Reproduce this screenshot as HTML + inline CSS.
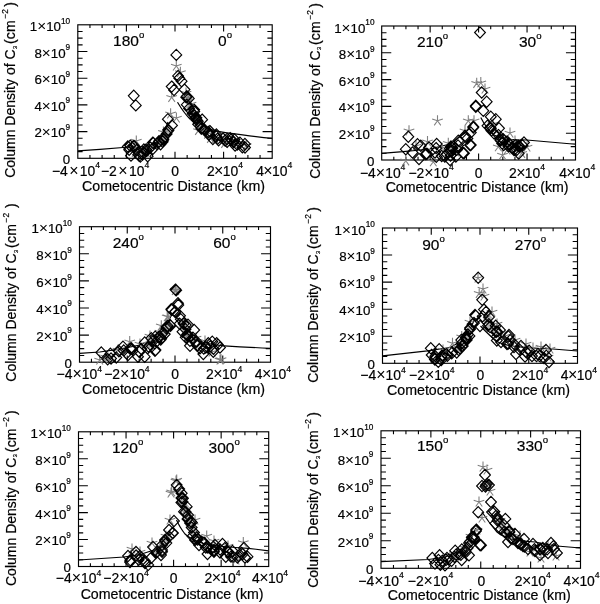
<!DOCTYPE html>
<html><head><meta charset="utf-8"><title>C3 column density profiles</title>
<style>
html,body{margin:0;padding:0;background:#fff;}
svg{display:block;font-family:"Liberation Sans",sans-serif;fill:#000;filter:grayscale(1);}
text{stroke:#000;stroke-width:0.2px;}
</style></head><body>
<svg width="600" height="604" viewBox="0 0 600 604">
<rect width="600" height="604" fill="#fff"/>
<rect x="77.8" y="24.8" width="194.4" height="133.5" fill="none" stroke="#000" stroke-width="1.15"/>
<path d="M89.95 158.3v-3.3M89.95 24.8v3.3M102.1 158.3v-3.3M102.1 24.8v3.3M114.25 158.3v-3.3M114.25 24.8v3.3M126.4 158.3v-6.6M126.4 24.8v6.6M138.55 158.3v-3.3M138.55 24.8v3.3M150.7 158.3v-3.3M150.7 24.8v3.3M162.85 158.3v-3.3M162.85 24.8v3.3M175 158.3v-6.6M175 24.8v6.6M187.15 158.3v-3.3M187.15 24.8v3.3M199.3 158.3v-3.3M199.3 24.8v3.3M211.45 158.3v-3.3M211.45 24.8v3.3M223.6 158.3v-6.6M223.6 24.8v6.6M235.75 158.3v-3.3M235.75 24.8v3.3M247.9 158.3v-3.3M247.9 24.8v3.3M260.05 158.3v-3.3M260.05 24.8v3.3M77.8 151.62h4.8M272.2 151.62h-4.8M77.8 144.95h4.8M272.2 144.95h-4.8M77.8 138.28h4.8M272.2 138.28h-4.8M77.8 131.6h9.6M272.2 131.6h-9.6M77.8 124.93h4.8M272.2 124.93h-4.8M77.8 118.25h4.8M272.2 118.25h-4.8M77.8 111.58h4.8M272.2 111.58h-4.8M77.8 104.9h9.6M272.2 104.9h-9.6M77.8 98.23h4.8M272.2 98.23h-4.8M77.8 91.55h4.8M272.2 91.55h-4.8M77.8 84.88h4.8M272.2 84.88h-4.8M77.8 78.2h9.6M272.2 78.2h-9.6M77.8 71.53h4.8M272.2 71.53h-4.8M77.8 64.85h4.8M272.2 64.85h-4.8M77.8 58.18h4.8M272.2 58.18h-4.8M77.8 51.5h9.6M272.2 51.5h-9.6M77.8 44.83h4.8M272.2 44.83h-4.8M77.8 38.15h4.8M272.2 38.15h-4.8M77.8 31.48h4.8M272.2 31.48h-4.8" stroke="#000" stroke-width="1.1" fill="none"/>
<text x="70.2" y="163.8" font-size="13.3" text-anchor="end">0</text>
<text x="70.2" y="137.32" font-size="13.3" text-anchor="end">2<tspan stroke="none" font-size="15.29">×</tspan>10<tspan dy="-7.45" font-size="8.25">9</tspan></text>
<text x="70.2" y="110.84" font-size="13.3" text-anchor="end">4<tspan stroke="none" font-size="15.29">×</tspan>10<tspan dy="-7.45" font-size="8.25">9</tspan></text>
<text x="70.2" y="84.36" font-size="13.3" text-anchor="end">6<tspan stroke="none" font-size="15.29">×</tspan>10<tspan dy="-7.45" font-size="8.25">9</tspan></text>
<text x="70.2" y="57.88" font-size="13.3" text-anchor="end">8<tspan stroke="none" font-size="15.29">×</tspan>10<tspan dy="-7.45" font-size="8.25">9</tspan></text>
<text x="70.2" y="31.4" font-size="13.3" text-anchor="end">1<tspan stroke="none" font-size="15.29">×</tspan>10<tspan dy="-7.45" font-size="8.25">10</tspan></text>
<text x="76" y="176" font-size="13.9" text-anchor="middle">−4<tspan stroke="none" dx="1.4" font-size="15.98">×</tspan><tspan dx="1.4">10</tspan><tspan dy="-7.78" font-size="8.62">4</tspan></text>
<text x="125.1" y="176" font-size="13.9" text-anchor="middle">−2<tspan stroke="none" dx="1.4" font-size="15.98">×</tspan><tspan dx="1.4">10</tspan><tspan dy="-7.78" font-size="8.62">4</tspan></text>
<text x="175" y="176" font-size="13.9" text-anchor="middle">0</text>
<text x="225" y="176" font-size="13.9" text-anchor="middle">2<tspan stroke="none" dx="-0.6" font-size="15.98">×</tspan><tspan dx="-0.6">10</tspan><tspan dy="-7.78" font-size="8.62">4</tspan></text>
<text x="274.2" y="176" font-size="13.9" text-anchor="middle">4<tspan stroke="none" dx="-0.6" font-size="15.98">×</tspan><tspan dx="-0.6">10</tspan><tspan dy="-7.78" font-size="8.62">4</tspan></text>
<text x="173.5" y="190.8" font-size="14.2" text-anchor="middle">Cometocentric Distance (km)</text>
<text transform="translate(15 177.8) rotate(-90)" font-size="14">Column Density of C<tspan font-size="5.6" dy="1.68" dx="0.3">3</tspan><tspan dy="-1.68" dx="2" letter-spacing="0.2">(cm</tspan><tspan font-size="8.4" dy="-7" dx="1.5">−2</tspan><tspan dy="7" dx="2.3">)</tspan></text>
<text x="113.1" y="45.9" font-size="15.5">180<tspan dy="-7.75" font-size="9.61">o</tspan></text>
<text x="218.1" y="45.9" font-size="15.5">0<tspan dy="-7.75" font-size="9.61">o</tspan></text>
<clipPath id="c0"><rect x="77.8" y="24.8" width="194.4" height="133.5"/></clipPath>
<g clip-path="url(#c0)" fill="none">
<path d="M77.8 150.8 L100 149.3 L123 147.5 L140 147 L150 145.5 L158 141 L165 130 L168 122" stroke="#000" stroke-width="1.2"/>
<path d="M177.5 102.2 C181 108 185 114 190 119 C198 126 210 130.5 227 132.8 C243 135 258 137 272.2 138.4" stroke="#000" stroke-width="1.2"/>
</g>
<g fill="none">
<path d="M188 93.5l5 5.2l-5 5.2l-5 -5.2zM190.74 102.08l5 5.2l-5 5.2l-5 -5.2zM190.82 104.61l5 5.2l-5 5.2l-5 -5.2zM192.2 107.56l5 5.2l-5 5.2l-5 -5.2zM194.58 109.23l5 5.2l-5 5.2l-5 -5.2zM196.2 112.6l5 5.2l-5 5.2l-5 -5.2zM197.87 114.23l5 5.2l-5 5.2l-5 -5.2zM198.38 116.55l5 5.2l-5 5.2l-5 -5.2zM199.52 118.63l5 5.2l-5 5.2l-5 -5.2zM202.39 120.71l5 5.2l-5 5.2l-5 -5.2zM160.05 134.3l5 5.2l-5 5.2l-5 -5.2zM162.81 131.9l5 5.2l-5 5.2l-5 -5.2zM164.07 130.22l5 5.2l-5 5.2l-5 -5.2zM166.44 127.49l5 5.2l-5 5.2l-5 -5.2zM166.1 126.08l5 5.2l-5 5.2l-5 -5.2zM140.78 147.37l5 5.2l-5 5.2l-5 -5.2zM144.16 146.4l5 5.2l-5 5.2l-5 -5.2zM145.42 146.1l5 5.2l-5 5.2l-5 -5.2z" fill="#b4b4b4" stroke="none"/>
<path d="M136.3 141l0 -5.6M136.3 141l-5.33 -1.73M136.3 141l-3.29 4.53M136.3 141l3.29 4.53M136.3 141l5.33 -1.73M170.6 113.8l0 -5.6M170.6 113.8l-5.33 -1.73M170.6 113.8l-3.29 4.53M170.6 113.8l3.29 4.53M170.6 113.8l5.33 -1.73M176.4 118l0 -5.6M176.4 118l-5.33 -1.73M176.4 118l-3.29 4.53M176.4 118l3.29 4.53M176.4 118l5.33 -1.73M171.7 97.3l0 -5.6M171.7 97.3l-5.33 -1.73M171.7 97.3l-3.29 4.53M171.7 97.3l3.29 4.53M171.7 97.3l5.33 -1.73M176.3 66l0 -5.6M176.3 66l-5.33 -1.73M176.3 66l-3.29 4.53M176.3 66l3.29 4.53M176.3 66l5.33 -1.73M180.4 72.4l0 -5.6M180.4 72.4l-5.33 -1.73M180.4 72.4l-3.29 4.53M180.4 72.4l3.29 4.53M180.4 72.4l5.33 -1.73M188 98l0 -5.6M188 98l-5.33 -1.73M188 98l-3.29 4.53M188 98l3.29 4.53M188 98l5.33 -1.73M186 93l0 -5.6M186 93l-5.33 -1.73M186 93l-3.29 4.53M186 93l3.29 4.53M186 93l5.33 -1.73M191 104l0 -5.6M191 104l-5.33 -1.73M191 104l-3.29 4.53M191 104l3.29 4.53M191 104l5.33 -1.73M193.79 114.98l0 -5.6M193.79 114.98l-5.33 -1.73M193.79 114.98l-3.29 4.53M193.79 114.98l3.29 4.53M193.79 114.98l5.33 -1.73M196.89 119.59l0 -5.6M196.89 119.59l-5.33 -1.73M196.89 119.59l-3.29 4.53M196.89 119.59l3.29 4.53M196.89 119.59l5.33 -1.73M198.5 130.4l0 -5.6M198.5 130.4l-5.33 -1.73M198.5 130.4l-3.29 4.53M198.5 130.4l3.29 4.53M198.5 130.4l5.33 -1.73M207.55 134.07l0 -5.6M207.55 134.07l-5.33 -1.73M207.55 134.07l-3.29 4.53M207.55 134.07l3.29 4.53M207.55 134.07l5.33 -1.73M210.46 138.29l0 -5.6M210.46 138.29l-5.33 -1.73M210.46 138.29l-3.29 4.53M210.46 138.29l3.29 4.53M210.46 138.29l5.33 -1.73M214.82 138.96l0 -5.6M214.82 138.96l-5.33 -1.73M214.82 138.96l-3.29 4.53M214.82 138.96l3.29 4.53M214.82 138.96l5.33 -1.73M224.62 143.38l0 -5.6M224.62 143.38l-5.33 -1.73M224.62 143.38l-3.29 4.53M224.62 143.38l3.29 4.53M224.62 143.38l5.33 -1.73M232.65 140.21l0 -5.6M232.65 140.21l-5.33 -1.73M232.65 140.21l-3.29 4.53M232.65 140.21l3.29 4.53M232.65 140.21l5.33 -1.73M236.99 143.99l0 -5.6M236.99 143.99l-5.33 -1.73M236.99 143.99l-3.29 4.53M236.99 143.99l3.29 4.53M236.99 143.99l5.33 -1.73M246.22 145.47l0 -5.6M246.22 145.47l-5.33 -1.73M246.22 145.47l-3.29 4.53M246.22 145.47l3.29 4.53M246.22 145.47l5.33 -1.73M134.67 148.58l0 -5.6M134.67 148.58l-5.33 -1.73M134.67 148.58l-3.29 4.53M134.67 148.58l3.29 4.53M134.67 148.58l5.33 -1.73M135.25 152.31l0 -5.6M135.25 152.31l-5.33 -1.73M135.25 152.31l-3.29 4.53M135.25 152.31l3.29 4.53M135.25 152.31l5.33 -1.73M146.44 152.65l0 -5.6M146.44 152.65l-5.33 -1.73M146.44 152.65l-3.29 4.53M146.44 152.65l3.29 4.53M146.44 152.65l5.33 -1.73M154.49 143.72l0 -5.6M154.49 143.72l-5.33 -1.73M154.49 143.72l-3.29 4.53M154.49 143.72l3.29 4.53M154.49 143.72l5.33 -1.73M159.92 141.86l0 -5.6M159.92 141.86l-5.33 -1.73M159.92 141.86l-3.29 4.53M159.92 141.86l3.29 4.53M159.92 141.86l5.33 -1.73M163.44 132.14l0 -5.6M163.44 132.14l-5.33 -1.73M163.44 132.14l-3.29 4.53M163.44 132.14l3.29 4.53M163.44 132.14l5.33 -1.73" stroke="#808080" stroke-width="1.1"/>
<path d="M133.75 90.18l5.4 5.62l-5.4 5.62l-5.4 -5.62zM135.8 99.78l5.4 5.62l-5.4 5.62l-5.4 -5.62zM176.3 49.28l5.4 5.62l-5.4 5.62l-5.4 -5.62zM178.1 70.28l5.4 5.62l-5.4 5.62l-5.4 -5.62zM179.3 72.68l5.4 5.62l-5.4 5.62l-5.4 -5.62zM181.6 75.58l5.4 5.62l-5.4 5.62l-5.4 -5.62zM171.7 80.98l5.4 5.62l-5.4 5.62l-5.4 -5.62zM174 84.38l5.4 5.62l-5.4 5.62l-5.4 -5.62zM184.5 83.98l5.4 5.62l-5.4 5.62l-5.4 -5.62zM167.9 113.58l5.4 5.62l-5.4 5.62l-5.4 -5.62zM129.19 144.23l5.4 5.62l-5.4 5.62l-5.4 -5.62zM127.8 140.87l5.4 5.62l-5.4 5.62l-5.4 -5.62zM130.37 140.17l5.4 5.62l-5.4 5.62l-5.4 -5.62zM133.34 140.46l5.4 5.62l-5.4 5.62l-5.4 -5.62zM134.46 140.66l5.4 5.62l-5.4 5.62l-5.4 -5.62zM130.19 140.01l5.4 5.62l-5.4 5.62l-5.4 -5.62zM131 150.03l5.4 5.62l-5.4 5.62l-5.4 -5.62zM136.62 144.59l5.4 5.62l-5.4 5.62l-5.4 -5.62zM138.25 148.76l5.4 5.62l-5.4 5.62l-5.4 -5.62zM140.39 151l5.4 5.62l-5.4 5.62l-5.4 -5.62zM139.19 150.24l5.4 5.62l-5.4 5.62l-5.4 -5.62zM142.77 148.53l5.4 5.62l-5.4 5.62l-5.4 -5.62zM142.62 148.85l5.4 5.62l-5.4 5.62l-5.4 -5.62zM143.68 147.5l5.4 5.62l-5.4 5.62l-5.4 -5.62zM146.1 143.76l5.4 5.62l-5.4 5.62l-5.4 -5.62zM143.89 143.89l5.4 5.62l-5.4 5.62l-5.4 -5.62zM147.67 150.59l5.4 5.62l-5.4 5.62l-5.4 -5.62zM146.86 145.14l5.4 5.62l-5.4 5.62l-5.4 -5.62zM150.27 142.01l5.4 5.62l-5.4 5.62l-5.4 -5.62zM152.77 137.16l5.4 5.62l-5.4 5.62l-5.4 -5.62zM152.94 143.06l5.4 5.62l-5.4 5.62l-5.4 -5.62zM153.36 137.36l5.4 5.62l-5.4 5.62l-5.4 -5.62zM158.68 136.77l5.4 5.62l-5.4 5.62l-5.4 -5.62zM160.56 138.58l5.4 5.62l-5.4 5.62l-5.4 -5.62zM162.67 136.07l5.4 5.62l-5.4 5.62l-5.4 -5.62zM157.04 138.39l5.4 5.62l-5.4 5.62l-5.4 -5.62zM159.01 135.54l5.4 5.62l-5.4 5.62l-5.4 -5.62zM163.44 134.08l5.4 5.62l-5.4 5.62l-5.4 -5.62zM163.21 132.58l5.4 5.62l-5.4 5.62l-5.4 -5.62zM166.67 128.4l5.4 5.62l-5.4 5.62l-5.4 -5.62zM168.25 124.12l5.4 5.62l-5.4 5.62l-5.4 -5.62zM168.49 124.99l5.4 5.62l-5.4 5.62l-5.4 -5.62zM172.01 119.78l5.4 5.62l-5.4 5.62l-5.4 -5.62zM186.84 90.56l5.4 5.62l-5.4 5.62l-5.4 -5.62zM186.23 91.57l5.4 5.62l-5.4 5.62l-5.4 -5.62zM188.81 92.85l5.4 5.62l-5.4 5.62l-5.4 -5.62zM186.81 99.08l5.4 5.62l-5.4 5.62l-5.4 -5.62zM189.02 102.76l5.4 5.62l-5.4 5.62l-5.4 -5.62zM194.27 105.96l5.4 5.62l-5.4 5.62l-5.4 -5.62zM194.2 104.22l5.4 5.62l-5.4 5.62l-5.4 -5.62zM192.65 108.17l5.4 5.62l-5.4 5.62l-5.4 -5.62zM194.6 109.94l5.4 5.62l-5.4 5.62l-5.4 -5.62zM195.37 112.18l5.4 5.62l-5.4 5.62l-5.4 -5.62zM196.38 112.17l5.4 5.62l-5.4 5.62l-5.4 -5.62zM196.5 114.14l5.4 5.62l-5.4 5.62l-5.4 -5.62zM197.78 115.74l5.4 5.62l-5.4 5.62l-5.4 -5.62zM198.13 118.61l5.4 5.62l-5.4 5.62l-5.4 -5.62zM202.14 114.02l5.4 5.62l-5.4 5.62l-5.4 -5.62zM200.5 120.75l5.4 5.62l-5.4 5.62l-5.4 -5.62zM201.31 122.89l5.4 5.62l-5.4 5.62l-5.4 -5.62zM204.26 124.01l5.4 5.62l-5.4 5.62l-5.4 -5.62zM204.94 124.88l5.4 5.62l-5.4 5.62l-5.4 -5.62zM208.19 126.27l5.4 5.62l-5.4 5.62l-5.4 -5.62zM209.84 125.48l5.4 5.62l-5.4 5.62l-5.4 -5.62zM208.6 128.92l5.4 5.62l-5.4 5.62l-5.4 -5.62zM209.13 128.92l5.4 5.62l-5.4 5.62l-5.4 -5.62zM212.83 133.34l5.4 5.62l-5.4 5.62l-5.4 -5.62zM216.42 128.78l5.4 5.62l-5.4 5.62l-5.4 -5.62zM216.41 130.83l5.4 5.62l-5.4 5.62l-5.4 -5.62zM217.56 133.11l5.4 5.62l-5.4 5.62l-5.4 -5.62zM218.6 134.65l5.4 5.62l-5.4 5.62l-5.4 -5.62zM223.01 132.99l5.4 5.62l-5.4 5.62l-5.4 -5.62zM227.13 133.31l5.4 5.62l-5.4 5.62l-5.4 -5.62zM225.1 134.96l5.4 5.62l-5.4 5.62l-5.4 -5.62zM227.07 136.2l5.4 5.62l-5.4 5.62l-5.4 -5.62zM230.23 132.53l5.4 5.62l-5.4 5.62l-5.4 -5.62zM231 134.12l5.4 5.62l-5.4 5.62l-5.4 -5.62zM234.5 133.88l5.4 5.62l-5.4 5.62l-5.4 -5.62zM233.65 136.49l5.4 5.62l-5.4 5.62l-5.4 -5.62zM235.1 139.89l5.4 5.62l-5.4 5.62l-5.4 -5.62zM237.27 138.86l5.4 5.62l-5.4 5.62l-5.4 -5.62zM239.97 137.16l5.4 5.62l-5.4 5.62l-5.4 -5.62zM242.37 141.59l5.4 5.62l-5.4 5.62l-5.4 -5.62zM245.01 141.88l5.4 5.62l-5.4 5.62l-5.4 -5.62zM244.94 138.38l5.4 5.62l-5.4 5.62l-5.4 -5.62z" stroke="#000" stroke-width="1.15"/>
</g>
<rect x="381.7" y="26" width="193.8" height="134" fill="none" stroke="#000" stroke-width="1.15"/>
<path d="M393.81 160v-3.31M393.81 26v3.31M405.93 160v-3.31M405.93 26v3.31M418.04 160v-3.31M418.04 26v3.31M430.15 160v-6.62M430.15 26v6.62M442.26 160v-3.31M442.26 26v3.31M454.38 160v-3.31M454.38 26v3.31M466.49 160v-3.31M466.49 26v3.31M478.6 160v-6.62M478.6 26v6.62M490.71 160v-3.31M490.71 26v3.31M502.82 160v-3.31M502.82 26v3.31M514.94 160v-3.31M514.94 26v3.31M527.05 160v-6.62M527.05 26v6.62M539.16 160v-3.31M539.16 26v3.31M551.27 160v-3.31M551.27 26v3.31M563.39 160v-3.31M563.39 26v3.31M381.7 153.3h4.79M575.5 153.3h-4.79M381.7 146.6h4.79M575.5 146.6h-4.79M381.7 139.9h4.79M575.5 139.9h-4.79M381.7 133.2h9.57M575.5 133.2h-9.57M381.7 126.5h4.79M575.5 126.5h-4.79M381.7 119.8h4.79M575.5 119.8h-4.79M381.7 113.1h4.79M575.5 113.1h-4.79M381.7 106.4h9.57M575.5 106.4h-9.57M381.7 99.7h4.79M575.5 99.7h-4.79M381.7 93h4.79M575.5 93h-4.79M381.7 86.3h4.79M575.5 86.3h-4.79M381.7 79.6h9.57M575.5 79.6h-9.57M381.7 72.9h4.79M575.5 72.9h-4.79M381.7 66.2h4.79M575.5 66.2h-4.79M381.7 59.5h4.79M575.5 59.5h-4.79M381.7 52.8h9.57M575.5 52.8h-9.57M381.7 46.1h4.79M575.5 46.1h-4.79M381.7 39.4h4.79M575.5 39.4h-4.79M381.7 32.7h4.79M575.5 32.7h-4.79" stroke="#000" stroke-width="1.1" fill="none"/>
<text x="374.5" y="165.5" font-size="13.3" text-anchor="end">0</text>
<text x="374.5" y="138.92" font-size="13.3" text-anchor="end">2<tspan stroke="none" font-size="15.29">×</tspan>10<tspan dy="-7.45" font-size="8.25">9</tspan></text>
<text x="374.5" y="112.34" font-size="13.3" text-anchor="end">4<tspan stroke="none" font-size="15.29">×</tspan>10<tspan dy="-7.45" font-size="8.25">9</tspan></text>
<text x="374.5" y="85.76" font-size="13.3" text-anchor="end">6<tspan stroke="none" font-size="15.29">×</tspan>10<tspan dy="-7.45" font-size="8.25">9</tspan></text>
<text x="374.5" y="59.18" font-size="13.3" text-anchor="end">8<tspan stroke="none" font-size="15.29">×</tspan>10<tspan dy="-7.45" font-size="8.25">9</tspan></text>
<text x="374.5" y="32.6" font-size="13.3" text-anchor="end">1<tspan stroke="none" font-size="15.29">×</tspan>10<tspan dy="-7.45" font-size="8.25">10</tspan></text>
<text x="382.7" y="177.5" font-size="13.9" text-anchor="middle">−4<tspan stroke="none" dx="0" font-size="15.98">×</tspan><tspan dx="0">10</tspan><tspan dy="-7.78" font-size="8.62">4</tspan></text>
<text x="431.15" y="177.5" font-size="13.9" text-anchor="middle">−2<tspan stroke="none" dx="0" font-size="15.98">×</tspan><tspan dx="0">10</tspan><tspan dy="-7.78" font-size="8.62">4</tspan></text>
<text x="478.6" y="177.5" font-size="13.9" text-anchor="middle">0</text>
<text x="527.05" y="177.5" font-size="13.9" text-anchor="middle">2<tspan stroke="none" dx="-0.6" font-size="15.98">×</tspan><tspan dx="-0.6">10</tspan><tspan dy="-7.78" font-size="8.62">4</tspan></text>
<text x="577.2" y="177.5" font-size="13.9" text-anchor="middle">4<tspan stroke="none" dx="-0.6" font-size="15.98">×</tspan><tspan dx="-0.6">10</tspan><tspan dy="-7.78" font-size="8.62">4</tspan></text>
<text x="477.1" y="191.8" font-size="14.2" text-anchor="middle">Cometocentric Distance (km)</text>
<text transform="translate(319.5 178.8) rotate(-90)" font-size="14">Column Density of C<tspan font-size="5.6" dy="1.68" dx="0.3">3</tspan><tspan dy="-1.68" dx="2" letter-spacing="0.2">(cm</tspan><tspan font-size="8.4" dy="-7" dx="1.5">−2</tspan><tspan dy="7" dx="2.3">)</tspan></text>
<text x="416.9" y="47.2" font-size="15.5">210<tspan dy="-7.75" font-size="9.61">o</tspan></text>
<text x="519" y="47.2" font-size="15.5">30<tspan dy="-7.75" font-size="9.61">o</tspan></text>
<clipPath id="c1"><rect x="381.7" y="26" width="193.8" height="134"/></clipPath>
<g clip-path="url(#c1)" fill="none">
<path d="M381.7 153.3 L403 151.7 L430 149 L450 144 L465 133 L473 122" stroke="#000" stroke-width="1.2"/>
<path d="M480.8 117.5 C484 124 488 130 494 135 C504 141 515 139.5 526.7 140 C545 141.5 560 143 575.5 144.2" stroke="#000" stroke-width="1.2"/>
</g>
<g fill="none">
<path d="M451.7 142.3l5 5.2l-5 5.2l-5 -5.2zM505.48 137.73l5 5.2l-5 5.2l-5 -5.2zM507.91 138.84l5 5.2l-5 5.2l-5 -5.2zM509.43 140.23l5 5.2l-5 5.2l-5 -5.2zM514.27 140.08l5 5.2l-5 5.2l-5 -5.2zM518.29 141.5l5 5.2l-5 5.2l-5 -5.2z" fill="#b4b4b4" stroke="none"/>
<path d="M437.5 120.8l0 -5.6M437.5 120.8l-5.33 -1.73M437.5 120.8l-3.29 4.53M437.5 120.8l3.29 4.53M437.5 120.8l5.33 -1.73M409 130.8l0 -5.6M409 130.8l-5.33 -1.73M409 130.8l-3.29 4.53M409 130.8l3.29 4.53M409 130.8l5.33 -1.73M405.8 160.8l0 -5.6M405.8 160.8l-5.33 -1.73M405.8 160.8l-3.29 4.53M405.8 160.8l3.29 4.53M405.8 160.8l5.33 -1.73M427.5 141.7l0 -5.6M427.5 141.7l-5.33 -1.73M427.5 141.7l-3.29 4.53M427.5 141.7l3.29 4.53M427.5 141.7l5.33 -1.73M468.3 120.8l0 -5.6M468.3 120.8l-5.33 -1.73M468.3 120.8l-3.29 4.53M468.3 120.8l3.29 4.53M468.3 120.8l5.33 -1.73M474 120.8l0 -5.6M474 120.8l-5.33 -1.73M474 120.8l-3.29 4.53M474 120.8l3.29 4.53M474 120.8l5.33 -1.73M448.3 143.3l0 -5.6M448.3 143.3l-5.33 -1.73M448.3 143.3l-3.29 4.53M448.3 143.3l3.29 4.53M448.3 143.3l5.33 -1.73M433.3 161.7l0 -5.6M433.3 161.7l-5.33 -1.73M433.3 161.7l-3.29 4.53M433.3 161.7l3.29 4.53M433.3 161.7l5.33 -1.73M465 130.8l0 -5.6M465 130.8l-5.33 -1.73M465 130.8l-3.29 4.53M465 130.8l3.29 4.53M465 130.8l5.33 -1.73M476.7 83.3l0 -5.6M476.7 83.3l-5.33 -1.73M476.7 83.3l-3.29 4.53M476.7 83.3l3.29 4.53M476.7 83.3l5.33 -1.73M480.8 82.7l0 -5.6M480.8 82.7l-5.33 -1.73M480.8 82.7l-3.29 4.53M480.8 82.7l3.29 4.53M480.8 82.7l5.33 -1.73M485 89l0 -5.6M485 89l-5.33 -1.73M485 89l-3.29 4.53M485 89l3.29 4.53M485 89l5.33 -1.73M498.3 146.7l0 -5.6M498.3 146.7l-5.33 -1.73M498.3 146.7l-3.29 4.53M498.3 146.7l3.29 4.53M498.3 146.7l5.33 -1.73M502.5 155l0 -5.6M502.5 155l-5.33 -1.73M502.5 155l-3.29 4.53M502.5 155l3.29 4.53M502.5 155l5.33 -1.73M521.7 153.3l0 -5.6M521.7 153.3l-5.33 -1.73M521.7 153.3l-3.29 4.53M521.7 153.3l3.29 4.53M521.7 153.3l5.33 -1.73M510 133l0 -5.6M510 133l-5.33 -1.73M510 133l-3.29 4.53M510 133l3.29 4.53M510 133l5.33 -1.73M416 146l0 -5.6M416 146l-5.33 -1.73M416 146l-3.29 4.53M416 146l3.29 4.53M416 146l5.33 -1.73M442 148l0 -5.6M442 148l-5.33 -1.73M442 148l-3.29 4.53M442 148l3.29 4.53M442 148l5.33 -1.73M456 152l0 -5.6M456 152l-5.33 -1.73M456 152l-3.29 4.53M456 152l3.29 4.53M456 152l5.33 -1.73M507 150l0 -5.6M507 150l-5.33 -1.73M507 150l-3.29 4.53M507 150l3.29 4.53M507 150l5.33 -1.73M515 141l0 -5.6M515 141l-5.33 -1.73M515 141l-3.29 4.53M515 141l3.29 4.53M515 141l5.33 -1.73M493 124l0 -5.6M493 124l-5.33 -1.73M493 124l-3.29 4.53M493 124l3.29 4.53M493 124l5.33 -1.73M527 147l0 -5.6M527 147l-5.33 -1.73M527 147l-3.29 4.53M527 147l3.29 4.53M527 147l5.33 -1.73" stroke="#808080" stroke-width="1.1"/>
<path d="M408.3 131.08l5.4 5.62l-5.4 5.62l-5.4 -5.62zM405.8 143.58l5.4 5.62l-5.4 5.62l-5.4 -5.62zM417.5 138.58l5.4 5.62l-5.4 5.62l-5.4 -5.62zM420.8 140.18l5.4 5.62l-5.4 5.62l-5.4 -5.62zM412.5 146.88l5.4 5.62l-5.4 5.62l-5.4 -5.62zM419 153.38l5.4 5.62l-5.4 5.62l-5.4 -5.62zM425.8 148.38l5.4 5.62l-5.4 5.62l-5.4 -5.62zM429 141.88l5.4 5.62l-5.4 5.62l-5.4 -5.62zM436.7 138.38l5.4 5.62l-5.4 5.62l-5.4 -5.62zM435 146.88l5.4 5.62l-5.4 5.62l-5.4 -5.62zM441.7 150.38l5.4 5.62l-5.4 5.62l-5.4 -5.62zM446.7 148.38l5.4 5.62l-5.4 5.62l-5.4 -5.62zM450 154.38l5.4 5.62l-5.4 5.62l-5.4 -5.62zM451.7 141.88l5.4 5.62l-5.4 5.62l-5.4 -5.62zM452.5 142.38l5.4 5.62l-5.4 5.62l-5.4 -5.62zM451 140.88l5.4 5.62l-5.4 5.62l-5.4 -5.62zM458.3 135.18l5.4 5.62l-5.4 5.62l-5.4 -5.62zM463 147.38l5.4 5.62l-5.4 5.62l-5.4 -5.62zM465 130.18l5.4 5.62l-5.4 5.62l-5.4 -5.62zM470.8 139.38l5.4 5.62l-5.4 5.62l-5.4 -5.62zM470.8 126.88l5.4 5.62l-5.4 5.62l-5.4 -5.62zM473.3 121.08l5.4 5.62l-5.4 5.62l-5.4 -5.62zM475.8 101.08l5.4 5.62l-5.4 5.62l-5.4 -5.62zM480 26.88l5.4 5.62l-5.4 5.62l-5.4 -5.62zM481.7 86.88l5.4 5.62l-5.4 5.62l-5.4 -5.62zM486.7 96.08l5.4 5.62l-5.4 5.62l-5.4 -5.62zM475.8 100.18l5.4 5.62l-5.4 5.62l-5.4 -5.62zM483.3 105.18l5.4 5.62l-5.4 5.62l-5.4 -5.62zM490.8 111.08l5.4 5.62l-5.4 5.62l-5.4 -5.62zM495.8 113.58l5.4 5.62l-5.4 5.62l-5.4 -5.62zM487.5 120.18l5.4 5.62l-5.4 5.62l-5.4 -5.62zM490.8 122.68l5.4 5.62l-5.4 5.62l-5.4 -5.62zM499 122.68l5.4 5.62l-5.4 5.62l-5.4 -5.62zM494 127.68l5.4 5.62l-5.4 5.62l-5.4 -5.62zM503.3 133.58l5.4 5.62l-5.4 5.62l-5.4 -5.62zM524 136.88l5.4 5.62l-5.4 5.62l-5.4 -5.62zM473.3 121.88l5.4 5.62l-5.4 5.62l-5.4 -5.62zM465.8 131.08l5.4 5.62l-5.4 5.62l-5.4 -5.62zM470 139.38l5.4 5.62l-5.4 5.62l-5.4 -5.62zM464 147.68l5.4 5.62l-5.4 5.62l-5.4 -5.62zM426.91 148.11l5.4 5.62l-5.4 5.62l-5.4 -5.62zM436.1 142.51l5.4 5.62l-5.4 5.62l-5.4 -5.62zM436.29 151.23l5.4 5.62l-5.4 5.62l-5.4 -5.62zM444.76 150.98l5.4 5.62l-5.4 5.62l-5.4 -5.62zM452.14 145.06l5.4 5.62l-5.4 5.62l-5.4 -5.62zM455.87 150.98l5.4 5.62l-5.4 5.62l-5.4 -5.62zM458.05 139.81l5.4 5.62l-5.4 5.62l-5.4 -5.62zM459.82 135.76l5.4 5.62l-5.4 5.62l-5.4 -5.62zM467.42 132.83l5.4 5.62l-5.4 5.62l-5.4 -5.62zM450.56 150.03l5.4 5.62l-5.4 5.62l-5.4 -5.62zM450.36 145.52l5.4 5.62l-5.4 5.62l-5.4 -5.62zM449.77 143.04l5.4 5.62l-5.4 5.62l-5.4 -5.62zM457 144.05l5.4 5.62l-5.4 5.62l-5.4 -5.62zM489.84 122.24l5.4 5.62l-5.4 5.62l-5.4 -5.62zM491.34 124.81l5.4 5.62l-5.4 5.62l-5.4 -5.62zM498.39 129.46l5.4 5.62l-5.4 5.62l-5.4 -5.62zM500.51 134.84l5.4 5.62l-5.4 5.62l-5.4 -5.62zM500.32 133.7l5.4 5.62l-5.4 5.62l-5.4 -5.62zM500.79 134.16l5.4 5.62l-5.4 5.62l-5.4 -5.62zM504.01 134.94l5.4 5.62l-5.4 5.62l-5.4 -5.62zM502.19 137.86l5.4 5.62l-5.4 5.62l-5.4 -5.62zM503.65 139.47l5.4 5.62l-5.4 5.62l-5.4 -5.62zM508.72 138.09l5.4 5.62l-5.4 5.62l-5.4 -5.62zM507.16 135.83l5.4 5.62l-5.4 5.62l-5.4 -5.62zM508.42 140.6l5.4 5.62l-5.4 5.62l-5.4 -5.62zM513.09 142.32l5.4 5.62l-5.4 5.62l-5.4 -5.62zM511.7 142.25l5.4 5.62l-5.4 5.62l-5.4 -5.62zM515.35 139.55l5.4 5.62l-5.4 5.62l-5.4 -5.62zM513.99 144.37l5.4 5.62l-5.4 5.62l-5.4 -5.62zM516.86 144.23l5.4 5.62l-5.4 5.62l-5.4 -5.62zM522.51 139.97l5.4 5.62l-5.4 5.62l-5.4 -5.62zM518.68 147.84l5.4 5.62l-5.4 5.62l-5.4 -5.62zM519.45 140.57l5.4 5.62l-5.4 5.62l-5.4 -5.62zM518.28 140.16l5.4 5.62l-5.4 5.62l-5.4 -5.62zM521.72 139.01l5.4 5.62l-5.4 5.62l-5.4 -5.62z" stroke="#000" stroke-width="1.15"/>
</g>
<rect x="79.5" y="226.7" width="191" height="135.5" fill="none" stroke="#000" stroke-width="1.15"/>
<path d="M91.44 362.2v-3.35M91.44 226.7v3.35M103.38 362.2v-3.35M103.38 226.7v3.35M115.31 362.2v-3.35M115.31 226.7v3.35M127.25 362.2v-6.7M127.25 226.7v6.7M139.19 362.2v-3.35M139.19 226.7v3.35M151.12 362.2v-3.35M151.12 226.7v3.35M163.06 362.2v-3.35M163.06 226.7v3.35M175 362.2v-6.7M175 226.7v6.7M186.94 362.2v-3.35M186.94 226.7v3.35M198.88 362.2v-3.35M198.88 226.7v3.35M210.81 362.2v-3.35M210.81 226.7v3.35M222.75 362.2v-6.7M222.75 226.7v6.7M234.69 362.2v-3.35M234.69 226.7v3.35M246.62 362.2v-3.35M246.62 226.7v3.35M258.56 362.2v-3.35M258.56 226.7v3.35M79.5 355.43h4.72M270.5 355.43h-4.72M79.5 348.65h4.72M270.5 348.65h-4.72M79.5 341.88h4.72M270.5 341.88h-4.72M79.5 335.1h9.43M270.5 335.1h-9.43M79.5 328.32h4.72M270.5 328.32h-4.72M79.5 321.55h4.72M270.5 321.55h-4.72M79.5 314.77h4.72M270.5 314.77h-4.72M79.5 308h9.43M270.5 308h-9.43M79.5 301.22h4.72M270.5 301.22h-4.72M79.5 294.45h4.72M270.5 294.45h-4.72M79.5 287.67h4.72M270.5 287.67h-4.72M79.5 280.9h9.43M270.5 280.9h-9.43M79.5 274.12h4.72M270.5 274.12h-4.72M79.5 267.35h4.72M270.5 267.35h-4.72M79.5 260.57h4.72M270.5 260.57h-4.72M79.5 253.8h9.43M270.5 253.8h-9.43M79.5 247.02h4.72M270.5 247.02h-4.72M79.5 240.25h4.72M270.5 240.25h-4.72M79.5 233.47h4.72M270.5 233.47h-4.72" stroke="#000" stroke-width="1.1" fill="none"/>
<text x="71.9" y="367.7" font-size="13.3" text-anchor="end">0</text>
<text x="71.9" y="340.82" font-size="13.3" text-anchor="end">2<tspan stroke="none" font-size="15.29">×</tspan>10<tspan dy="-7.45" font-size="8.25">9</tspan></text>
<text x="71.9" y="313.94" font-size="13.3" text-anchor="end">4<tspan stroke="none" font-size="15.29">×</tspan>10<tspan dy="-7.45" font-size="8.25">9</tspan></text>
<text x="71.9" y="287.06" font-size="13.3" text-anchor="end">6<tspan stroke="none" font-size="15.29">×</tspan>10<tspan dy="-7.45" font-size="8.25">9</tspan></text>
<text x="71.9" y="260.18" font-size="13.3" text-anchor="end">8<tspan stroke="none" font-size="15.29">×</tspan>10<tspan dy="-7.45" font-size="8.25">9</tspan></text>
<text x="71.9" y="233.3" font-size="13.3" text-anchor="end">1<tspan stroke="none" font-size="15.29">×</tspan>10<tspan dy="-7.45" font-size="8.25">10</tspan></text>
<text x="79.3" y="379.4" font-size="13.9" text-anchor="middle">−4<tspan stroke="none" dx="0" font-size="15.98">×</tspan><tspan dx="0">10</tspan><tspan dy="-7.78" font-size="8.62">4</tspan></text>
<text x="126.95" y="379.4" font-size="13.9" text-anchor="middle">−2<tspan stroke="none" dx="0" font-size="15.98">×</tspan><tspan dx="0">10</tspan><tspan dy="-7.78" font-size="8.62">4</tspan></text>
<text x="175.2" y="379.4" font-size="13.9" text-anchor="middle">0</text>
<text x="224.15" y="379.4" font-size="13.9" text-anchor="middle">2<tspan stroke="none" dx="-0.6" font-size="15.98">×</tspan><tspan dx="-0.6">10</tspan><tspan dy="-7.78" font-size="8.62">4</tspan></text>
<text x="272.9" y="379.4" font-size="13.9" text-anchor="middle">4<tspan stroke="none" dx="-0.6" font-size="15.98">×</tspan><tspan dx="-0.6">10</tspan><tspan dy="-7.78" font-size="8.62">4</tspan></text>
<text x="173.5" y="393.9" font-size="14.2" text-anchor="middle">Cometocentric Distance (km)</text>
<text transform="translate(15.9 381.7) rotate(-90)" font-size="14">Column Density of C<tspan font-size="5.6" dy="1.68" dx="0.3">3</tspan><tspan dy="-1.68" dx="2" letter-spacing="0.2">(cm</tspan><tspan font-size="8.4" dy="-7" dx="1.5">−2</tspan><tspan dy="7" dx="4.8">)</tspan></text>
<text x="112.7" y="248" font-size="15.5">240<tspan dy="-7.75" font-size="9.61">o</tspan></text>
<text x="213.2" y="248" font-size="15.5">60<tspan dy="-7.75" font-size="9.61">o</tspan></text>
<clipPath id="c2"><rect x="79.5" y="226.7" width="191" height="135.5"/></clipPath>
<g clip-path="url(#c2)" fill="none">
<path d="M79.5 353.3 L99.7 352 L119.7 349.2 L140 345 L155 338 L165 328 L171 316" stroke="#000" stroke-width="1.2"/>
<path d="M178 318 C182 326 187 334 194 339 C203 344 214 345 224.2 345.8 C240 346.8 255 347.6 270.5 348.3" stroke="#000" stroke-width="1.2"/>
</g>
<g fill="none">
<path d="M175.8 284.8l5 5.2l-5 5.2l-5 -5.2zM187.5 329.8l5 5.2l-5 5.2l-5 -5.2zM106.3 352.3l5 5.2l-5 5.2l-5 -5.2zM149.18 338.23l5 5.2l-5 5.2l-5 -5.2zM152.08 335.98l5 5.2l-5 5.2l-5 -5.2zM157.55 332.94l5 5.2l-5 5.2l-5 -5.2zM159.86 331.21l5 5.2l-5 5.2l-5 -5.2zM164.6 326.1l5 5.2l-5 5.2l-5 -5.2zM166.93 323.68l5 5.2l-5 5.2l-5 -5.2zM182.56 317.82l5 5.2l-5 5.2l-5 -5.2zM183.32 321.28l5 5.2l-5 5.2l-5 -5.2zM185.32 323.66l5 5.2l-5 5.2l-5 -5.2z" fill="#b4b4b4" stroke="none"/>
<path d="M167.2 316.7l0 -5.6M167.2 316.7l-5.33 -1.73M167.2 316.7l-3.29 4.53M167.2 316.7l3.29 4.53M167.2 316.7l5.33 -1.73M161.3 325.8l0 -5.6M161.3 325.8l-5.33 -1.73M161.3 325.8l-3.29 4.53M161.3 325.8l3.29 4.53M161.3 325.8l5.33 -1.73M129.7 341.7l0 -5.6M129.7 341.7l-5.33 -1.73M129.7 341.7l-3.29 4.53M129.7 341.7l3.29 4.53M129.7 341.7l5.33 -1.73M99.7 360l0 -5.6M99.7 360l-5.33 -1.73M99.7 360l-3.29 4.53M99.7 360l3.29 4.53M99.7 360l5.33 -1.73M168.3 316.7l0 -5.6M168.3 316.7l-5.33 -1.73M168.3 316.7l-3.29 4.53M168.3 316.7l3.29 4.53M168.3 316.7l5.33 -1.73M220 360l0 -5.6M220 360l-5.33 -1.73M220 360l-3.29 4.53M220 360l3.29 4.53M220 360l5.33 -1.73M221 359.5l0 -5.6M221 359.5l-5.33 -1.73M221 359.5l-3.29 4.53M221 359.5l3.29 4.53M221 359.5l5.33 -1.73M175.8 290l0 -5.6M175.8 290l-5.33 -1.73M175.8 290l-3.29 4.53M175.8 290l3.29 4.53M175.8 290l5.33 -1.73M175.3 290.5l0 -5.6M175.3 290.5l-5.33 -1.73M175.3 290.5l-3.29 4.53M175.3 290.5l3.29 4.53M175.3 290.5l5.33 -1.73M106 357l0 -5.6M106 357l-5.33 -1.73M106 357l-3.29 4.53M106 357l3.29 4.53M106 357l5.33 -1.73M108 358l0 -5.6M108 358l-5.33 -1.73M108 358l-3.29 4.53M108 358l3.29 4.53M108 358l5.33 -1.73M140 344l0 -5.6M140 344l-5.33 -1.73M140 344l-3.29 4.53M140 344l3.29 4.53M140 344l5.33 -1.73M150 336l0 -5.6M150 336l-5.33 -1.73M150 336l-3.29 4.53M150 336l3.29 4.53M150 336l5.33 -1.73M187.5 335l0 -5.6M187.5 335l-5.33 -1.73M187.5 335l-3.29 4.53M187.5 335l3.29 4.53M187.5 335l5.33 -1.73M196 338l0 -5.6M196 338l-5.33 -1.73M196 338l-3.29 4.53M196 338l3.29 4.53M196 338l5.33 -1.73M205 341l0 -5.6M205 341l-5.33 -1.73M205 341l-3.29 4.53M205 341l3.29 4.53M205 341l5.33 -1.73M212 352l0 -5.6M212 352l-5.33 -1.73M212 352l-3.29 4.53M212 352l3.29 4.53M212 352l5.33 -1.73M118 350l0 -5.6M118 350l-5.33 -1.73M118 350l-3.29 4.53M118 350l3.29 4.53M118 350l5.33 -1.73M160 332l0 -5.6M160 332l-5.33 -1.73M160 332l-3.29 4.53M160 332l3.29 4.53M160 332l5.33 -1.73M183 324l0 -5.6M183 324l-5.33 -1.73M183 324l-3.29 4.53M183 324l3.29 4.53M183 324l5.33 -1.73" stroke="#808080" stroke-width="1.1"/>
<path d="M101.3 346.88l5.4 5.62l-5.4 5.62l-5.4 -5.62zM123 341.08l5.4 5.62l-5.4 5.62l-5.4 -5.62zM131.3 342.68l5.4 5.62l-5.4 5.62l-5.4 -5.62zM128 349.38l5.4 5.62l-5.4 5.62l-5.4 -5.62zM138 351.08l5.4 5.62l-5.4 5.62l-5.4 -5.62zM144.7 351.08l5.4 5.62l-5.4 5.62l-5.4 -5.62zM141.3 343.38l5.4 5.62l-5.4 5.62l-5.4 -5.62zM144.7 336.88l5.4 5.62l-5.4 5.62l-5.4 -5.62zM151.3 332.68l5.4 5.62l-5.4 5.62l-5.4 -5.62zM155.5 344.38l5.4 5.62l-5.4 5.62l-5.4 -5.62zM156.3 336.08l5.4 5.62l-5.4 5.62l-5.4 -5.62zM161.3 332.68l5.4 5.62l-5.4 5.62l-5.4 -5.62zM164.7 328.58l5.4 5.62l-5.4 5.62l-5.4 -5.62zM166.3 322.68l5.4 5.62l-5.4 5.62l-5.4 -5.62zM170.5 320.18l5.4 5.62l-5.4 5.62l-5.4 -5.62zM171.3 303.58l5.4 5.62l-5.4 5.62l-5.4 -5.62zM175.5 306.08l5.4 5.62l-5.4 5.62l-5.4 -5.62zM178 297.68l5.4 5.62l-5.4 5.62l-5.4 -5.62zM175.8 284.38l5.4 5.62l-5.4 5.62l-5.4 -5.62zM176.2 284.68l5.4 5.62l-5.4 5.62l-5.4 -5.62zM175.4 283.98l5.4 5.62l-5.4 5.62l-5.4 -5.62zM178.3 299.38l5.4 5.62l-5.4 5.62l-5.4 -5.62zM171.7 304.38l5.4 5.62l-5.4 5.62l-5.4 -5.62zM175 306.08l5.4 5.62l-5.4 5.62l-5.4 -5.62zM180 310.18l5.4 5.62l-5.4 5.62l-5.4 -5.62zM180.8 313.58l5.4 5.62l-5.4 5.62l-5.4 -5.62zM185.8 319.38l5.4 5.62l-5.4 5.62l-5.4 -5.62zM194.2 324.38l5.4 5.62l-5.4 5.62l-5.4 -5.62zM182.5 326.08l5.4 5.62l-5.4 5.62l-5.4 -5.62zM187.5 329.38l5.4 5.62l-5.4 5.62l-5.4 -5.62zM187 328.88l5.4 5.62l-5.4 5.62l-5.4 -5.62zM188 329.98l5.4 5.62l-5.4 5.62l-5.4 -5.62zM190 340.18l5.4 5.62l-5.4 5.62l-5.4 -5.62zM196.7 336.08l5.4 5.62l-5.4 5.62l-5.4 -5.62zM200 342.68l5.4 5.62l-5.4 5.62l-5.4 -5.62zM203.3 348.38l5.4 5.62l-5.4 5.62l-5.4 -5.62zM208.3 337.68l5.4 5.62l-5.4 5.62l-5.4 -5.62zM213.3 346.08l5.4 5.62l-5.4 5.62l-5.4 -5.62zM216.7 337.68l5.4 5.62l-5.4 5.62l-5.4 -5.62zM220 341.88l5.4 5.62l-5.4 5.62l-5.4 -5.62zM166.7 321.08l5.4 5.62l-5.4 5.62l-5.4 -5.62zM170 319.38l5.4 5.62l-5.4 5.62l-5.4 -5.62zM160 331.08l5.4 5.62l-5.4 5.62l-5.4 -5.62zM155 337.68l5.4 5.62l-5.4 5.62l-5.4 -5.62zM155 345.18l5.4 5.62l-5.4 5.62l-5.4 -5.62zM107.64 353.62l5.4 5.62l-5.4 5.62l-5.4 -5.62zM111.05 352.93l5.4 5.62l-5.4 5.62l-5.4 -5.62zM110.42 348.08l5.4 5.62l-5.4 5.62l-5.4 -5.62zM116.28 351.81l5.4 5.62l-5.4 5.62l-5.4 -5.62zM118.89 345.61l5.4 5.62l-5.4 5.62l-5.4 -5.62zM118.65 345.13l5.4 5.62l-5.4 5.62l-5.4 -5.62zM123.73 344.87l5.4 5.62l-5.4 5.62l-5.4 -5.62zM126.63 347.65l5.4 5.62l-5.4 5.62l-5.4 -5.62zM130.14 343.11l5.4 5.62l-5.4 5.62l-5.4 -5.62zM132.22 343.65l5.4 5.62l-5.4 5.62l-5.4 -5.62zM139.4 346.35l5.4 5.62l-5.4 5.62l-5.4 -5.62zM138.83 345.55l5.4 5.62l-5.4 5.62l-5.4 -5.62zM147.72 342.72l5.4 5.62l-5.4 5.62l-5.4 -5.62zM148.41 340.85l5.4 5.62l-5.4 5.62l-5.4 -5.62zM151.91 340.72l5.4 5.62l-5.4 5.62l-5.4 -5.62zM153.11 335.41l5.4 5.62l-5.4 5.62l-5.4 -5.62zM155.21 331.06l5.4 5.62l-5.4 5.62l-5.4 -5.62zM158.79 331.22l5.4 5.62l-5.4 5.62l-5.4 -5.62zM160.74 333.84l5.4 5.62l-5.4 5.62l-5.4 -5.62zM162.99 327.49l5.4 5.62l-5.4 5.62l-5.4 -5.62zM164.64 328.47l5.4 5.62l-5.4 5.62l-5.4 -5.62zM167.5 320.08l5.4 5.62l-5.4 5.62l-5.4 -5.62zM179.66 318.12l5.4 5.62l-5.4 5.62l-5.4 -5.62zM183.6 318.22l5.4 5.62l-5.4 5.62l-5.4 -5.62zM185.51 323.59l5.4 5.62l-5.4 5.62l-5.4 -5.62zM188.01 319.2l5.4 5.62l-5.4 5.62l-5.4 -5.62zM187.21 329.86l5.4 5.62l-5.4 5.62l-5.4 -5.62zM189.96 335.16l5.4 5.62l-5.4 5.62l-5.4 -5.62zM185.68 331.71l5.4 5.62l-5.4 5.62l-5.4 -5.62zM192.93 332.2l5.4 5.62l-5.4 5.62l-5.4 -5.62zM195.24 336.38l5.4 5.62l-5.4 5.62l-5.4 -5.62zM197.97 339.62l5.4 5.62l-5.4 5.62l-5.4 -5.62zM197.18 340.11l5.4 5.62l-5.4 5.62l-5.4 -5.62zM203.77 343.01l5.4 5.62l-5.4 5.62l-5.4 -5.62zM205.75 341.88l5.4 5.62l-5.4 5.62l-5.4 -5.62zM210.22 340.88l5.4 5.62l-5.4 5.62l-5.4 -5.62zM212.29 336.05l5.4 5.62l-5.4 5.62l-5.4 -5.62zM213.42 343.14l5.4 5.62l-5.4 5.62l-5.4 -5.62zM217.95 339.18l5.4 5.62l-5.4 5.62l-5.4 -5.62z" stroke="#000" stroke-width="1.15"/>
</g>
<rect x="382.5" y="228" width="195" height="135.3" fill="none" stroke="#000" stroke-width="1.15"/>
<path d="M394.69 363.3v-3.34M394.69 228v3.34M406.88 363.3v-3.34M406.88 228v3.34M419.06 363.3v-3.34M419.06 228v3.34M431.25 363.3v-6.69M431.25 228v6.69M443.44 363.3v-3.34M443.44 228v3.34M455.62 363.3v-3.34M455.62 228v3.34M467.81 363.3v-3.34M467.81 228v3.34M480 363.3v-6.69M480 228v6.69M492.19 363.3v-3.34M492.19 228v3.34M504.38 363.3v-3.34M504.38 228v3.34M516.56 363.3v-3.34M516.56 228v3.34M528.75 363.3v-6.69M528.75 228v6.69M540.94 363.3v-3.34M540.94 228v3.34M553.12 363.3v-3.34M553.12 228v3.34M565.31 363.3v-3.34M565.31 228v3.34M382.5 356.54h4.81M577.5 356.54h-4.81M382.5 349.77h4.81M577.5 349.77h-4.81M382.5 343h4.81M577.5 343h-4.81M382.5 336.24h9.63M577.5 336.24h-9.63M382.5 329.48h4.81M577.5 329.48h-4.81M382.5 322.71h4.81M577.5 322.71h-4.81M382.5 315.94h4.81M577.5 315.94h-4.81M382.5 309.18h9.63M577.5 309.18h-9.63M382.5 302.42h4.81M577.5 302.42h-4.81M382.5 295.65h4.81M577.5 295.65h-4.81M382.5 288.88h4.81M577.5 288.88h-4.81M382.5 282.12h9.63M577.5 282.12h-9.63M382.5 275.36h4.81M577.5 275.36h-4.81M382.5 268.59h4.81M577.5 268.59h-4.81M382.5 261.82h4.81M577.5 261.82h-4.81M382.5 255.06h9.63M577.5 255.06h-9.63M382.5 248.29h4.81M577.5 248.29h-4.81M382.5 241.53h4.81M577.5 241.53h-4.81M382.5 234.76h4.81M577.5 234.76h-4.81" stroke="#000" stroke-width="1.1" fill="none"/>
<text x="374.9" y="368.8" font-size="13.3" text-anchor="end">0</text>
<text x="374.9" y="341.96" font-size="13.3" text-anchor="end">2<tspan stroke="none" font-size="15.29">×</tspan>10<tspan dy="-7.45" font-size="8.25">9</tspan></text>
<text x="374.9" y="315.12" font-size="13.3" text-anchor="end">4<tspan stroke="none" font-size="15.29">×</tspan>10<tspan dy="-7.45" font-size="8.25">9</tspan></text>
<text x="374.9" y="288.28" font-size="13.3" text-anchor="end">6<tspan stroke="none" font-size="15.29">×</tspan>10<tspan dy="-7.45" font-size="8.25">9</tspan></text>
<text x="374.9" y="261.44" font-size="13.3" text-anchor="end">8<tspan stroke="none" font-size="15.29">×</tspan>10<tspan dy="-7.45" font-size="8.25">9</tspan></text>
<text x="374.9" y="234.6" font-size="13.3" text-anchor="end">1<tspan stroke="none" font-size="15.29">×</tspan>10<tspan dy="-7.45" font-size="8.25">10</tspan></text>
<text x="383" y="380.4" font-size="13.9" text-anchor="middle">−4<tspan stroke="none" dx="0" font-size="15.98">×</tspan><tspan dx="0">10</tspan><tspan dy="-7.78" font-size="8.62">4</tspan></text>
<text x="431.75" y="380.4" font-size="13.9" text-anchor="middle">−2<tspan stroke="none" dx="0" font-size="15.98">×</tspan><tspan dx="0">10</tspan><tspan dy="-7.78" font-size="8.62">4</tspan></text>
<text x="480.3" y="380.4" font-size="13.9" text-anchor="middle">0</text>
<text x="530.15" y="380.4" font-size="13.9" text-anchor="middle">2<tspan stroke="none" dx="-0.6" font-size="15.98">×</tspan><tspan dx="-0.6">10</tspan><tspan dy="-7.78" font-size="8.62">4</tspan></text>
<text x="578.9" y="380.4" font-size="13.9" text-anchor="middle">4<tspan stroke="none" dx="-0.6" font-size="15.98">×</tspan><tspan dx="-0.6">10</tspan><tspan dy="-7.78" font-size="8.62">4</tspan></text>
<text x="478.5" y="394.9" font-size="14.2" text-anchor="middle">Cometocentric Distance (km)</text>
<text transform="translate(317.9 382.8) rotate(-90)" font-size="14">Column Density of C<tspan font-size="5.6" dy="1.68" dx="0.3">3</tspan><tspan dy="-1.68" dx="2" letter-spacing="0.2">(cm</tspan><tspan font-size="8.4" dy="-7" dx="1.5">−2</tspan><tspan dy="7" dx="2.3">)</tspan></text>
<text x="422.2" y="249.5" font-size="15.5">90<tspan dy="-7.75" font-size="9.61">o</tspan></text>
<text x="514.8" y="249.5" font-size="15.5">270<tspan dy="-7.75" font-size="9.61">o</tspan></text>
<clipPath id="c3"><rect x="382.5" y="228" width="195" height="135.3"/></clipPath>
<g clip-path="url(#c3)" fill="none">
<path d="M382.5 355.8 L427.5 350.8 L450 347.5 L462 341 L470 330 L475 318" stroke="#000" stroke-width="1.2"/>
<path d="M480.5 326 C486 332 491 337 498 342 C506 346 515 346.5 525 347.5 C537 348.3 545 348.7 553 349 L577.5 351" stroke="#000" stroke-width="1.2"/>
</g>
<g fill="none">
<path d="M459.93 343.04l5 5.2l-5 5.2l-5 -5.2zM462.65 337.74l5 5.2l-5 5.2l-5 -5.2zM465.32 335.3l5 5.2l-5 5.2l-5 -5.2zM467.96 331.07l5 5.2l-5 5.2l-5 -5.2zM469.66 325.19l5 5.2l-5 5.2l-5 -5.2zM487.44 312.5l5 5.2l-5 5.2l-5 -5.2zM487.7 314.98l5 5.2l-5 5.2l-5 -5.2zM491.37 320.85l5 5.2l-5 5.2l-5 -5.2zM493.16 323.21l5 5.2l-5 5.2l-5 -5.2zM496.03 328.1l5 5.2l-5 5.2l-5 -5.2z" fill="#b4b4b4" stroke="none"/>
<path d="M452.5 343.3l0 -5.6M452.5 343.3l-5.33 -1.73M452.5 343.3l-3.29 4.53M452.5 343.3l3.29 4.53M452.5 343.3l5.33 -1.73M461.7 336.7l0 -5.6M461.7 336.7l-5.33 -1.73M461.7 336.7l-3.29 4.53M461.7 336.7l3.29 4.53M461.7 336.7l5.33 -1.73M479.2 293.3l0 -5.6M479.2 293.3l-5.33 -1.73M479.2 293.3l-3.29 4.53M479.2 293.3l3.29 4.53M479.2 293.3l5.33 -1.73M478 278l0 -5.6M478 278l-5.33 -1.73M478 278l-3.29 4.53M478 278l3.29 4.53M478 278l5.33 -1.73M483 289l0 -5.6M483 289l-5.33 -1.73M483 289l-3.29 4.53M483 289l3.29 4.53M483 289l5.33 -1.73M484 296l0 -5.6M484 296l-5.33 -1.73M484 296l-3.29 4.53M484 296l3.29 4.53M484 296l5.33 -1.73M526 344l0 -5.6M526 344l-5.33 -1.73M526 344l-3.29 4.53M526 344l3.29 4.53M526 344l5.33 -1.73M541 347l0 -5.6M541 347l-5.33 -1.73M541 347l-3.29 4.53M541 347l3.29 4.53M541 347l5.33 -1.73M550 349l0 -5.6M550 349l-5.33 -1.73M550 349l-3.29 4.53M550 349l3.29 4.53M550 349l5.33 -1.73M492 312l0 -5.6M492 312l-5.33 -1.73M492 312l-3.29 4.53M492 312l3.29 4.53M492 312l5.33 -1.73M497 324l0 -5.6M497 324l-5.33 -1.73M497 324l-3.29 4.53M497 324l3.29 4.53M497 324l5.33 -1.73M443 350l0 -5.6M443 350l-5.33 -1.73M443 350l-3.29 4.53M443 350l3.29 4.53M443 350l5.33 -1.73M470 322l0 -5.6M470 322l-5.33 -1.73M470 322l-3.29 4.53M470 322l3.29 4.53M470 322l5.33 -1.73M505 336l0 -5.6M505 336l-5.33 -1.73M505 336l-3.29 4.53M505 336l3.29 4.53M505 336l5.33 -1.73M515 340l0 -5.6M515 340l-5.33 -1.73M515 340l-3.29 4.53M515 340l3.29 4.53M515 340l5.33 -1.73M533 348l0 -5.6M533 348l-5.33 -1.73M533 348l-3.29 4.53M533 348l3.29 4.53M533 348l5.33 -1.73M548 357l0 -5.6M548 357l-5.33 -1.73M548 357l-3.29 4.53M548 357l3.29 4.53M548 357l5.33 -1.73" stroke="#808080" stroke-width="1.1"/>
<path d="M430.8 342.68l5.4 5.62l-5.4 5.62l-5.4 -5.62zM439.2 343.58l5.4 5.62l-5.4 5.62l-5.4 -5.62zM431.7 349.38l5.4 5.62l-5.4 5.62l-5.4 -5.62zM435 352.68l5.4 5.62l-5.4 5.62l-5.4 -5.62zM438.3 356.08l5.4 5.62l-5.4 5.62l-5.4 -5.62zM441.7 351.88l5.4 5.62l-5.4 5.62l-5.4 -5.62zM446.7 348.58l5.4 5.62l-5.4 5.62l-5.4 -5.62zM451.7 347.68l5.4 5.62l-5.4 5.62l-5.4 -5.62zM456.7 346.88l5.4 5.62l-5.4 5.62l-5.4 -5.62zM460 342.68l5.4 5.62l-5.4 5.62l-5.4 -5.62zM461.7 337.68l5.4 5.62l-5.4 5.62l-5.4 -5.62zM466.7 334.38l5.4 5.62l-5.4 5.62l-5.4 -5.62zM470 323.58l5.4 5.62l-5.4 5.62l-5.4 -5.62zM472.5 318.58l5.4 5.62l-5.4 5.62l-5.4 -5.62zM475.8 310.18l5.4 5.62l-5.4 5.62l-5.4 -5.62zM478.2 272.08l5.4 5.62l-5.4 5.62l-5.4 -5.62zM482.2 294.18l5.4 5.62l-5.4 5.62l-5.4 -5.62zM484 303.98l5.4 5.62l-5.4 5.62l-5.4 -5.62zM486 306.38l5.4 5.62l-5.4 5.62l-5.4 -5.62zM475 309.38l5.4 5.62l-5.4 5.62l-5.4 -5.62zM489 311.38l5.4 5.62l-5.4 5.62l-5.4 -5.62zM480 320.38l5.4 5.62l-5.4 5.62l-5.4 -5.62zM490 321.38l5.4 5.62l-5.4 5.62l-5.4 -5.62zM496 326.38l5.4 5.62l-5.4 5.62l-5.4 -5.62zM500 324.38l5.4 5.62l-5.4 5.62l-5.4 -5.62zM509 329.38l5.4 5.62l-5.4 5.62l-5.4 -5.62zM501 336.38l5.4 5.62l-5.4 5.62l-5.4 -5.62zM507 338.38l5.4 5.62l-5.4 5.62l-5.4 -5.62zM514 341.38l5.4 5.62l-5.4 5.62l-5.4 -5.62zM521 340.38l5.4 5.62l-5.4 5.62l-5.4 -5.62zM516 348.38l5.4 5.62l-5.4 5.62l-5.4 -5.62zM526 346.38l5.4 5.62l-5.4 5.62l-5.4 -5.62zM532 350.38l5.4 5.62l-5.4 5.62l-5.4 -5.62zM538 348.38l5.4 5.62l-5.4 5.62l-5.4 -5.62zM546 344.38l5.4 5.62l-5.4 5.62l-5.4 -5.62zM544 352.38l5.4 5.62l-5.4 5.62l-5.4 -5.62zM549 356.38l5.4 5.62l-5.4 5.62l-5.4 -5.62zM470 322.38l5.4 5.62l-5.4 5.62l-5.4 -5.62zM466 333.38l5.4 5.62l-5.4 5.62l-5.4 -5.62zM474 317.38l5.4 5.62l-5.4 5.62l-5.4 -5.62zM462 340.38l5.4 5.62l-5.4 5.62l-5.4 -5.62zM435.28 350.53l5.4 5.62l-5.4 5.62l-5.4 -5.62zM434.88 353.85l5.4 5.62l-5.4 5.62l-5.4 -5.62zM441.27 354.42l5.4 5.62l-5.4 5.62l-5.4 -5.62zM441.87 350.04l5.4 5.62l-5.4 5.62l-5.4 -5.62zM447.35 350.14l5.4 5.62l-5.4 5.62l-5.4 -5.62zM452.43 346.84l5.4 5.62l-5.4 5.62l-5.4 -5.62zM458.87 344.55l5.4 5.62l-5.4 5.62l-5.4 -5.62zM458.8 344.35l5.4 5.62l-5.4 5.62l-5.4 -5.62zM462.77 340.43l5.4 5.62l-5.4 5.62l-5.4 -5.62zM461.27 334.42l5.4 5.62l-5.4 5.62l-5.4 -5.62zM465.85 331.92l5.4 5.62l-5.4 5.62l-5.4 -5.62zM467.9 328.91l5.4 5.62l-5.4 5.62l-5.4 -5.62zM469.44 330.31l5.4 5.62l-5.4 5.62l-5.4 -5.62zM482.67 310.69l5.4 5.62l-5.4 5.62l-5.4 -5.62zM488.85 318.63l5.4 5.62l-5.4 5.62l-5.4 -5.62zM488.03 320.22l5.4 5.62l-5.4 5.62l-5.4 -5.62zM495.7 320.19l5.4 5.62l-5.4 5.62l-5.4 -5.62zM497.01 325.79l5.4 5.62l-5.4 5.62l-5.4 -5.62zM496.75 331.03l5.4 5.62l-5.4 5.62l-5.4 -5.62zM496.78 334.82l5.4 5.62l-5.4 5.62l-5.4 -5.62zM508.42 330.85l5.4 5.62l-5.4 5.62l-5.4 -5.62zM508.24 338.03l5.4 5.62l-5.4 5.62l-5.4 -5.62zM510.17 334.65l5.4 5.62l-5.4 5.62l-5.4 -5.62zM514.58 338.83l5.4 5.62l-5.4 5.62l-5.4 -5.62zM519.01 343.35l5.4 5.62l-5.4 5.62l-5.4 -5.62zM525.03 350.84l5.4 5.62l-5.4 5.62l-5.4 -5.62zM527.88 348.02l5.4 5.62l-5.4 5.62l-5.4 -5.62zM529.14 345.06l5.4 5.62l-5.4 5.62l-5.4 -5.62zM536.54 350.47l5.4 5.62l-5.4 5.62l-5.4 -5.62zM539.5 350.49l5.4 5.62l-5.4 5.62l-5.4 -5.62zM546.32 350.08l5.4 5.62l-5.4 5.62l-5.4 -5.62z" stroke="#000" stroke-width="1.15"/>
</g>
<rect x="78.5" y="431.8" width="190.2" height="134.7" fill="none" stroke="#000" stroke-width="1.15"/>
<path d="M90.39 566.5v-3.33M90.39 431.8v3.33M102.28 566.5v-3.33M102.28 431.8v3.33M114.16 566.5v-3.33M114.16 431.8v3.33M126.05 566.5v-6.66M126.05 431.8v6.66M137.94 566.5v-3.33M137.94 431.8v3.33M149.82 566.5v-3.33M149.82 431.8v3.33M161.71 566.5v-3.33M161.71 431.8v3.33M173.6 566.5v-6.66M173.6 431.8v6.66M185.49 566.5v-3.33M185.49 431.8v3.33M197.38 566.5v-3.33M197.38 431.8v3.33M209.26 566.5v-3.33M209.26 431.8v3.33M221.15 566.5v-6.66M221.15 431.8v6.66M233.04 566.5v-3.33M233.04 431.8v3.33M244.92 566.5v-3.33M244.92 431.8v3.33M256.81 566.5v-3.33M256.81 431.8v3.33M78.5 559.76h4.7M268.7 559.76h-4.7M78.5 553.03h4.7M268.7 553.03h-4.7M78.5 546.29h4.7M268.7 546.29h-4.7M78.5 539.56h9.39M268.7 539.56h-9.39M78.5 532.83h4.7M268.7 532.83h-4.7M78.5 526.09h4.7M268.7 526.09h-4.7M78.5 519.36h4.7M268.7 519.36h-4.7M78.5 512.62h9.39M268.7 512.62h-9.39M78.5 505.88h4.7M268.7 505.88h-4.7M78.5 499.15h4.7M268.7 499.15h-4.7M78.5 492.42h4.7M268.7 492.42h-4.7M78.5 485.68h9.39M268.7 485.68h-9.39M78.5 478.94h4.7M268.7 478.94h-4.7M78.5 472.21h4.7M268.7 472.21h-4.7M78.5 465.48h4.7M268.7 465.48h-4.7M78.5 458.74h9.39M268.7 458.74h-9.39M78.5 452h4.7M268.7 452h-4.7M78.5 445.27h4.7M268.7 445.27h-4.7M78.5 438.54h4.7M268.7 438.54h-4.7" stroke="#000" stroke-width="1.1" fill="none"/>
<text x="70.9" y="572" font-size="13.3" text-anchor="end">0</text>
<text x="70.9" y="545.28" font-size="13.3" text-anchor="end">2<tspan stroke="none" font-size="15.29">×</tspan>10<tspan dy="-7.45" font-size="8.25">9</tspan></text>
<text x="70.9" y="518.56" font-size="13.3" text-anchor="end">4<tspan stroke="none" font-size="15.29">×</tspan>10<tspan dy="-7.45" font-size="8.25">9</tspan></text>
<text x="70.9" y="491.84" font-size="13.3" text-anchor="end">6<tspan stroke="none" font-size="15.29">×</tspan>10<tspan dy="-7.45" font-size="8.25">9</tspan></text>
<text x="70.9" y="465.12" font-size="13.3" text-anchor="end">8<tspan stroke="none" font-size="15.29">×</tspan>10<tspan dy="-7.45" font-size="8.25">9</tspan></text>
<text x="70.9" y="438.4" font-size="13.3" text-anchor="end">1<tspan stroke="none" font-size="15.29">×</tspan>10<tspan dy="-7.45" font-size="8.25">10</tspan></text>
<text x="78.5" y="583.3" font-size="13.9" text-anchor="middle">−4<tspan stroke="none" dx="0" font-size="15.98">×</tspan><tspan dx="0">10</tspan><tspan dy="-7.78" font-size="8.62">4</tspan></text>
<text x="126.05" y="583.3" font-size="13.9" text-anchor="middle">−2<tspan stroke="none" dx="0" font-size="15.98">×</tspan><tspan dx="0">10</tspan><tspan dy="-7.78" font-size="8.62">4</tspan></text>
<text x="173.6" y="583.3" font-size="13.9" text-anchor="middle">0</text>
<text x="222.55" y="583.3" font-size="13.9" text-anchor="middle">2<tspan stroke="none" dx="-0.6" font-size="15.98">×</tspan><tspan dx="-0.6">10</tspan><tspan dy="-7.78" font-size="8.62">4</tspan></text>
<text x="270.1" y="583.3" font-size="13.9" text-anchor="middle">4<tspan stroke="none" dx="-0.6" font-size="15.98">×</tspan><tspan dx="-0.6">10</tspan><tspan dy="-7.78" font-size="8.62">4</tspan></text>
<text x="172.1" y="598.5" font-size="14.2" text-anchor="middle">Cometocentric Distance (km)</text>
<text transform="translate(15.7 586) rotate(-90)" font-size="14">Column Density of C<tspan font-size="5.6" dy="1.68" dx="0.3">3</tspan><tspan dy="-1.68" dx="2" letter-spacing="0.2">(cm</tspan><tspan font-size="8.4" dy="-7" dx="1.5">−2</tspan><tspan dy="7" dx="2.3">)</tspan></text>
<text x="112" y="453" font-size="15.5">120<tspan dy="-7.75" font-size="9.61">o</tspan></text>
<text x="208.6" y="453" font-size="15.5">300<tspan dy="-7.75" font-size="9.61">o</tspan></text>
<clipPath id="c4"><rect x="78.5" y="431.8" width="190.2" height="134.7"/></clipPath>
<g clip-path="url(#c4)" fill="none">
<path d="M78.5 560 L124 557 L140 554.5 L154 550 L163 543 L170 532" stroke="#000" stroke-width="1.2"/>
<path d="M176.5 520 C178 523 179 525 180 526.7 C182 530 183.5 532 185 534 C188 537 195 541 205 544 C220 546.5 235 547.5 248.3 548.3 L268.7 550.8" stroke="#000" stroke-width="1.2"/>
</g>
<g fill="none">
<path d="M179.07 487.18l5 5.2l-5 5.2l-5 -5.2zM182.14 492.03l5 5.2l-5 5.2l-5 -5.2zM182.79 494.14l5 5.2l-5 5.2l-5 -5.2zM184.16 501.26l5 5.2l-5 5.2l-5 -5.2zM185.08 504.36l5 5.2l-5 5.2l-5 -5.2zM187.9 510.45l5 5.2l-5 5.2l-5 -5.2zM188.49 513.12l5 5.2l-5 5.2l-5 -5.2zM190.26 520.48l5 5.2l-5 5.2l-5 -5.2zM192.19 523.6l5 5.2l-5 5.2l-5 -5.2zM194.67 527.28l5 5.2l-5 5.2l-5 -5.2zM157.17 546.14l5 5.2l-5 5.2l-5 -5.2zM161.7 542.6l5 5.2l-5 5.2l-5 -5.2zM164.37 537.87l5 5.2l-5 5.2l-5 -5.2zM166.26 533.89l5 5.2l-5 5.2l-5 -5.2z" fill="#b4b4b4" stroke="none"/>
<path d="M132 549l0 -5.6M132 549l-5.33 -1.73M132 549l-3.29 4.53M132 549l3.29 4.53M132 549l5.33 -1.73M152 543l0 -5.6M152 543l-5.33 -1.73M152 543l-3.29 4.53M152 543l3.29 4.53M152 543l5.33 -1.73M170 520l0 -5.6M170 520l-5.33 -1.73M170 520l-3.29 4.53M170 520l3.29 4.53M170 520l5.33 -1.73M171 493l0 -5.6M171 493l-5.33 -1.73M171 493l-3.29 4.53M171 493l3.29 4.53M171 493l5.33 -1.73M176 481l0 -5.6M176 481l-5.33 -1.73M176 481l-3.29 4.53M176 481l3.29 4.53M176 481l5.33 -1.73M176.7 480l0 -5.6M176.7 480l-5.33 -1.73M176.7 480l-3.29 4.53M176.7 480l3.29 4.53M176.7 480l5.33 -1.73M171.7 491.7l0 -5.6M171.7 491.7l-5.33 -1.73M171.7 491.7l-3.29 4.53M171.7 491.7l3.29 4.53M171.7 491.7l5.33 -1.73M243.3 542.5l0 -5.6M243.3 542.5l-5.33 -1.73M243.3 542.5l-3.29 4.53M243.3 542.5l3.29 4.53M243.3 542.5l5.33 -1.73M206.7 536l0 -5.6M206.7 536l-5.33 -1.73M206.7 536l-3.29 4.53M206.7 536l3.29 4.53M206.7 536l5.33 -1.73M195 520l0 -5.6M195 520l-5.33 -1.73M195 520l-3.29 4.53M195 520l3.29 4.53M195 520l5.33 -1.73M186 509l0 -5.6M186 509l-5.33 -1.73M186 509l-3.29 4.53M186 509l3.29 4.53M186 509l5.33 -1.73M214 541l0 -5.6M214 541l-5.33 -1.73M214 541l-3.29 4.53M214 541l3.29 4.53M214 541l5.33 -1.73M228 546l0 -5.6M228 546l-5.33 -1.73M228 546l-3.29 4.53M228 546l3.29 4.53M228 546l5.33 -1.73M236 560l0 -5.6M236 560l-5.33 -1.73M236 560l-3.29 4.53M236 560l3.29 4.53M236 560l5.33 -1.73M160 548l0 -5.6M160 548l-5.33 -1.73M160 548l-3.29 4.53M160 548l3.29 4.53M160 548l5.33 -1.73M166 536l0 -5.6M166 536l-5.33 -1.73M166 536l-3.29 4.53M166 536l3.29 4.53M166 536l5.33 -1.73M140 552l0 -5.6M140 552l-5.33 -1.73M140 552l-3.29 4.53M140 552l3.29 4.53M140 552l5.33 -1.73" stroke="#808080" stroke-width="1.1"/>
<path d="M128 550.38l5.4 5.62l-5.4 5.62l-5.4 -5.62zM136 546.38l5.4 5.62l-5.4 5.62l-5.4 -5.62zM130 556.38l5.4 5.62l-5.4 5.62l-5.4 -5.62zM140 550.38l5.4 5.62l-5.4 5.62l-5.4 -5.62zM145 557.38l5.4 5.62l-5.4 5.62l-5.4 -5.62zM142 554.38l5.4 5.62l-5.4 5.62l-5.4 -5.62zM151 552.38l5.4 5.62l-5.4 5.62l-5.4 -5.62zM156 547.38l5.4 5.62l-5.4 5.62l-5.4 -5.62zM161 549.38l5.4 5.62l-5.4 5.62l-5.4 -5.62zM153 541.38l5.4 5.62l-5.4 5.62l-5.4 -5.62zM162 539.38l5.4 5.62l-5.4 5.62l-5.4 -5.62zM165 534.38l5.4 5.62l-5.4 5.62l-5.4 -5.62zM169 524.38l5.4 5.62l-5.4 5.62l-5.4 -5.62zM173 527.38l5.4 5.62l-5.4 5.62l-5.4 -5.62zM174 515.38l5.4 5.62l-5.4 5.62l-5.4 -5.62zM176.7 479.38l5.4 5.62l-5.4 5.62l-5.4 -5.62zM179 483.38l5.4 5.62l-5.4 5.62l-5.4 -5.62zM181.7 487.68l5.4 5.62l-5.4 5.62l-5.4 -5.62zM182.5 496.08l5.4 5.62l-5.4 5.62l-5.4 -5.62zM186.7 501.08l5.4 5.62l-5.4 5.62l-5.4 -5.62zM184 506.08l5.4 5.62l-5.4 5.62l-5.4 -5.62zM187.5 513.38l5.4 5.62l-5.4 5.62l-5.4 -5.62zM190 517.38l5.4 5.62l-5.4 5.62l-5.4 -5.62zM191.7 521.88l5.4 5.62l-5.4 5.62l-5.4 -5.62zM194 526.88l5.4 5.62l-5.4 5.62l-5.4 -5.62zM196.7 531.88l5.4 5.62l-5.4 5.62l-5.4 -5.62zM195 534.38l5.4 5.62l-5.4 5.62l-5.4 -5.62zM201.7 536.08l5.4 5.62l-5.4 5.62l-5.4 -5.62zM199 539.38l5.4 5.62l-5.4 5.62l-5.4 -5.62zM205.8 541.88l5.4 5.62l-5.4 5.62l-5.4 -5.62zM207.5 548.38l5.4 5.62l-5.4 5.62l-5.4 -5.62zM210.8 543.38l5.4 5.62l-5.4 5.62l-5.4 -5.62zM215 539.38l5.4 5.62l-5.4 5.62l-5.4 -5.62zM214 544.38l5.4 5.62l-5.4 5.62l-5.4 -5.62zM222.5 538.38l5.4 5.62l-5.4 5.62l-5.4 -5.62zM220 546.88l5.4 5.62l-5.4 5.62l-5.4 -5.62zM225.8 551.08l5.4 5.62l-5.4 5.62l-5.4 -5.62zM227.5 546.08l5.4 5.62l-5.4 5.62l-5.4 -5.62zM232.5 545.38l5.4 5.62l-5.4 5.62l-5.4 -5.62zM233 551.08l5.4 5.62l-5.4 5.62l-5.4 -5.62zM238.3 550.18l5.4 5.62l-5.4 5.62l-5.4 -5.62zM241.7 547.38l5.4 5.62l-5.4 5.62l-5.4 -5.62zM244 542.38l5.4 5.62l-5.4 5.62l-5.4 -5.62zM247.5 551.08l5.4 5.62l-5.4 5.62l-5.4 -5.62zM245 551.88l5.4 5.62l-5.4 5.62l-5.4 -5.62zM172.5 527.38l5.4 5.62l-5.4 5.62l-5.4 -5.62zM130.26 554.54l5.4 5.62l-5.4 5.62l-5.4 -5.62zM136.13 549.91l5.4 5.62l-5.4 5.62l-5.4 -5.62zM138.73 554.23l5.4 5.62l-5.4 5.62l-5.4 -5.62zM144.75 555.03l5.4 5.62l-5.4 5.62l-5.4 -5.62zM148.23 559.3l5.4 5.62l-5.4 5.62l-5.4 -5.62zM150.97 552.41l5.4 5.62l-5.4 5.62l-5.4 -5.62zM157.08 546.15l5.4 5.62l-5.4 5.62l-5.4 -5.62zM162.05 544.31l5.4 5.62l-5.4 5.62l-5.4 -5.62zM162.05 546.25l5.4 5.62l-5.4 5.62l-5.4 -5.62zM166.34 537.5l5.4 5.62l-5.4 5.62l-5.4 -5.62zM165.23 535.47l5.4 5.62l-5.4 5.62l-5.4 -5.62zM169.15 530.88l5.4 5.62l-5.4 5.62l-5.4 -5.62zM179.22 483.36l5.4 5.62l-5.4 5.62l-5.4 -5.62zM181.41 492.5l5.4 5.62l-5.4 5.62l-5.4 -5.62zM182.98 492.56l5.4 5.62l-5.4 5.62l-5.4 -5.62zM181.39 496.81l5.4 5.62l-5.4 5.62l-5.4 -5.62zM185.71 506.38l5.4 5.62l-5.4 5.62l-5.4 -5.62zM188.11 509.46l5.4 5.62l-5.4 5.62l-5.4 -5.62zM188.15 512.7l5.4 5.62l-5.4 5.62l-5.4 -5.62zM191.87 516.96l5.4 5.62l-5.4 5.62l-5.4 -5.62zM190.85 515.71l5.4 5.62l-5.4 5.62l-5.4 -5.62zM192.5 530.67l5.4 5.62l-5.4 5.62l-5.4 -5.62zM195.6 533.98l5.4 5.62l-5.4 5.62l-5.4 -5.62zM197.61 533.92l5.4 5.62l-5.4 5.62l-5.4 -5.62zM203.99 536.97l5.4 5.62l-5.4 5.62l-5.4 -5.62zM207.85 541.82l5.4 5.62l-5.4 5.62l-5.4 -5.62zM213.17 541.31l5.4 5.62l-5.4 5.62l-5.4 -5.62zM213.98 546.09l5.4 5.62l-5.4 5.62l-5.4 -5.62zM220.11 543.87l5.4 5.62l-5.4 5.62l-5.4 -5.62zM224.77 542.54l5.4 5.62l-5.4 5.62l-5.4 -5.62zM228.55 546.49l5.4 5.62l-5.4 5.62l-5.4 -5.62zM231 551.03l5.4 5.62l-5.4 5.62l-5.4 -5.62zM237.45 551.86l5.4 5.62l-5.4 5.62l-5.4 -5.62zM242.55 548.66l5.4 5.62l-5.4 5.62l-5.4 -5.62z" stroke="#000" stroke-width="1.15"/>
</g>
<rect x="381" y="430.8" width="199.5" height="137.5" fill="none" stroke="#000" stroke-width="1.15"/>
<path d="M393.47 568.3v-3.4M393.47 430.8v3.4M405.94 568.3v-3.4M405.94 430.8v3.4M418.41 568.3v-3.4M418.41 430.8v3.4M430.88 568.3v-6.8M430.88 430.8v6.8M443.34 568.3v-3.4M443.34 430.8v3.4M455.81 568.3v-3.4M455.81 430.8v3.4M468.28 568.3v-3.4M468.28 430.8v3.4M480.75 568.3v-6.8M480.75 430.8v6.8M493.22 568.3v-3.4M493.22 430.8v3.4M505.69 568.3v-3.4M505.69 430.8v3.4M518.16 568.3v-3.4M518.16 430.8v3.4M530.62 568.3v-6.8M530.62 430.8v6.8M543.09 568.3v-3.4M543.09 430.8v3.4M555.56 568.3v-3.4M555.56 430.8v3.4M568.03 568.3v-3.4M568.03 430.8v3.4M381 561.42h4.93M580.5 561.42h-4.93M381 554.55h4.93M580.5 554.55h-4.93M381 547.67h4.93M580.5 547.67h-4.93M381 540.8h9.85M580.5 540.8h-9.85M381 533.92h4.93M580.5 533.92h-4.93M381 527.05h4.93M580.5 527.05h-4.93M381 520.17h4.93M580.5 520.17h-4.93M381 513.3h9.85M580.5 513.3h-9.85M381 506.42h4.93M580.5 506.42h-4.93M381 499.55h4.93M580.5 499.55h-4.93M381 492.67h4.93M580.5 492.67h-4.93M381 485.8h9.85M580.5 485.8h-9.85M381 478.92h4.93M580.5 478.92h-4.93M381 472.05h4.93M580.5 472.05h-4.93M381 465.18h4.93M580.5 465.18h-4.93M381 458.3h9.85M580.5 458.3h-9.85M381 451.43h4.93M580.5 451.43h-4.93M381 444.55h4.93M580.5 444.55h-4.93M381 437.68h4.93M580.5 437.68h-4.93" stroke="#000" stroke-width="1.1" fill="none"/>
<text x="373.4" y="573.8" font-size="13.3" text-anchor="end">0</text>
<text x="373.4" y="546.52" font-size="13.3" text-anchor="end">2<tspan stroke="none" font-size="15.29">×</tspan>10<tspan dy="-7.45" font-size="8.25">9</tspan></text>
<text x="373.4" y="519.24" font-size="13.3" text-anchor="end">4<tspan stroke="none" font-size="15.29">×</tspan>10<tspan dy="-7.45" font-size="8.25">9</tspan></text>
<text x="373.4" y="491.96" font-size="13.3" text-anchor="end">6<tspan stroke="none" font-size="15.29">×</tspan>10<tspan dy="-7.45" font-size="8.25">9</tspan></text>
<text x="373.4" y="464.68" font-size="13.3" text-anchor="end">8<tspan stroke="none" font-size="15.29">×</tspan>10<tspan dy="-7.45" font-size="8.25">9</tspan></text>
<text x="373.4" y="437.4" font-size="13.3" text-anchor="end">1<tspan stroke="none" font-size="15.29">×</tspan>10<tspan dy="-7.45" font-size="8.25">10</tspan></text>
<text x="381" y="585.5" font-size="13.9" text-anchor="middle">−4<tspan stroke="none" dx="0" font-size="15.98">×</tspan><tspan dx="0">10</tspan><tspan dy="-7.78" font-size="8.62">4</tspan></text>
<text x="430.48" y="585.5" font-size="13.9" text-anchor="middle">−2<tspan stroke="none" dx="0" font-size="15.98">×</tspan><tspan dx="0">10</tspan><tspan dy="-7.78" font-size="8.62">4</tspan></text>
<text x="481.35" y="585.5" font-size="13.9" text-anchor="middle">0</text>
<text x="532.83" y="585.5" font-size="13.9" text-anchor="middle">2<tspan stroke="none" dx="-0.6" font-size="15.98">×</tspan><tspan dx="-0.6">10</tspan><tspan dy="-7.78" font-size="8.62">4</tspan></text>
<text x="581.6" y="585.5" font-size="13.9" text-anchor="middle">4<tspan stroke="none" dx="-0.6" font-size="15.98">×</tspan><tspan dx="-0.6">10</tspan><tspan dy="-7.78" font-size="8.62">4</tspan></text>
<text x="479.25" y="600" font-size="14.2" text-anchor="middle">Cometocentric Distance (km)</text>
<text transform="translate(318.2 587.8) rotate(-90)" font-size="14">Column Density of C<tspan font-size="5.6" dy="1.68" dx="0.3">3</tspan><tspan dy="-1.68" dx="2" letter-spacing="0.2">(cm</tspan><tspan font-size="8.4" dy="-7" dx="1.5">−2</tspan><tspan dy="7" dx="2.3">)</tspan></text>
<text x="417" y="451" font-size="15.5">150<tspan dy="-7.75" font-size="9.61">o</tspan></text>
<text x="516.8" y="451" font-size="15.5">330<tspan dy="-7.75" font-size="9.61">o</tspan></text>
<clipPath id="c5"><rect x="381" y="430.8" width="199.5" height="137.5"/></clipPath>
<g clip-path="url(#c5)" fill="none">
<path d="M381 561.7 L428.6 559.5 L445 557 L460 551 L470 541 L476 528" stroke="#000" stroke-width="1.2"/>
<path d="M482 512 C484 515 486.5 518.5 489 522 C492 526 494.5 529 497 532 C505 539 518 541 535 542 C543 543.5 550 545 557 546 L580.5 548" stroke="#000" stroke-width="1.2"/>
</g>
<g fill="none">
<path d="M486 479.8l5 5.2l-5 5.2l-5 -5.2zM496.47 511.96l5 5.2l-5 5.2l-5 -5.2zM499.19 516.47l5 5.2l-5 5.2l-5 -5.2zM501.11 518.03l5 5.2l-5 5.2l-5 -5.2zM502.39 522.14l5 5.2l-5 5.2l-5 -5.2zM505.9 526.13l5 5.2l-5 5.2l-5 -5.2zM509.52 530.86l5 5.2l-5 5.2l-5 -5.2zM462.13 547.19l5 5.2l-5 5.2l-5 -5.2zM466.19 541.8l5 5.2l-5 5.2l-5 -5.2zM470.12 537.9l5 5.2l-5 5.2l-5 -5.2z" fill="#b4b4b4" stroke="none"/>
<path d="M483 467l0 -5.6M483 467l-5.33 -1.73M483 467l-3.29 4.53M483 467l3.29 4.53M483 467l5.33 -1.73M487 470l0 -5.6M487 470l-5.33 -1.73M487 470l-3.29 4.53M487 470l3.29 4.53M487 470l5.33 -1.73M490 491l0 -5.6M490 491l-5.33 -1.73M490 491l-3.29 4.53M490 491l3.29 4.53M490 491l5.33 -1.73M479 502l0 -5.6M479 502l-5.33 -1.73M479 502l-3.29 4.53M479 502l3.29 4.53M479 502l5.33 -1.73M482 518l0 -5.6M482 518l-5.33 -1.73M482 518l-3.29 4.53M482 518l3.29 4.53M482 518l5.33 -1.73M477 530l0 -5.6M477 530l-5.33 -1.73M477 530l-3.29 4.53M477 530l3.29 4.53M477 530l5.33 -1.73M500 520l0 -5.6M500 520l-5.33 -1.73M500 520l-3.29 4.53M500 520l3.29 4.53M500 520l5.33 -1.73M510 530l0 -5.6M510 530l-5.33 -1.73M510 530l-3.29 4.53M510 530l3.29 4.53M510 530l5.33 -1.73M520 536l0 -5.6M520 536l-5.33 -1.73M520 536l-3.29 4.53M520 536l3.29 4.53M520 536l5.33 -1.73M530 552l0 -5.6M530 552l-5.33 -1.73M530 552l-3.29 4.53M530 552l3.29 4.53M530 552l5.33 -1.73M541 558l0 -5.6M541 558l-5.33 -1.73M541 558l-3.29 4.53M541 558l3.29 4.53M541 558l5.33 -1.73M548 546l0 -5.6M548 546l-5.33 -1.73M548 546l-3.29 4.53M548 546l3.29 4.53M548 546l5.33 -1.73M465 548l0 -5.6M465 548l-5.33 -1.73M465 548l-3.29 4.53M465 548l3.29 4.53M465 548l5.33 -1.73M450 556l0 -5.6M450 556l-5.33 -1.73M450 556l-3.29 4.53M450 556l3.29 4.53M450 556l5.33 -1.73M471 536l0 -5.6M471 536l-5.33 -1.73M471 536l-3.29 4.53M471 536l3.29 4.53M471 536l5.33 -1.73M556 556l0 -5.6M556 556l-5.33 -1.73M556 556l-3.29 4.53M556 556l3.29 4.53M556 556l5.33 -1.73" stroke="#808080" stroke-width="1.1"/>
<path d="M432.3 552.38l5.4 5.62l-5.4 5.62l-5.4 -5.62zM439.6 549.68l5.4 5.62l-5.4 5.62l-5.4 -5.62zM435 557.98l5.4 5.62l-5.4 5.62l-5.4 -5.62zM442.4 555.18l5.4 5.62l-5.4 5.62l-5.4 -5.62zM447 552.38l5.4 5.62l-5.4 5.62l-5.4 -5.62zM445 559.78l5.4 5.62l-5.4 5.62l-5.4 -5.62zM451.6 555.18l5.4 5.62l-5.4 5.62l-5.4 -5.62zM455.2 545.08l5.4 5.62l-5.4 5.62l-5.4 -5.62zM458.9 548.78l5.4 5.62l-5.4 5.62l-5.4 -5.62zM461.7 554.38l5.4 5.62l-5.4 5.62l-5.4 -5.62zM465.3 545.08l5.4 5.62l-5.4 5.62l-5.4 -5.62zM469 549.68l5.4 5.62l-5.4 5.62l-5.4 -5.62zM470 535.98l5.4 5.62l-5.4 5.62l-5.4 -5.62zM473.6 531.38l5.4 5.62l-5.4 5.62l-5.4 -5.62zM476.3 523.98l5.4 5.62l-5.4 5.62l-5.4 -5.62zM481 539.58l5.4 5.62l-5.4 5.62l-5.4 -5.62zM478.2 506.58l5.4 5.62l-5.4 5.62l-5.4 -5.62zM485 469.38l5.4 5.62l-5.4 5.62l-5.4 -5.62zM482 480.38l5.4 5.62l-5.4 5.62l-5.4 -5.62zM486 479.38l5.4 5.62l-5.4 5.62l-5.4 -5.62zM489 479.38l5.4 5.62l-5.4 5.62l-5.4 -5.62zM487 478.38l5.4 5.62l-5.4 5.62l-5.4 -5.62zM485.5 480.88l5.4 5.62l-5.4 5.62l-5.4 -5.62zM491 496.38l5.4 5.62l-5.4 5.62l-5.4 -5.62zM492 506.38l5.4 5.62l-5.4 5.62l-5.4 -5.62zM496 510.38l5.4 5.62l-5.4 5.62l-5.4 -5.62zM498 513.38l5.4 5.62l-5.4 5.62l-5.4 -5.62zM504 519.38l5.4 5.62l-5.4 5.62l-5.4 -5.62zM501 523.38l5.4 5.62l-5.4 5.62l-5.4 -5.62zM506 527.38l5.4 5.62l-5.4 5.62l-5.4 -5.62zM508 536.38l5.4 5.62l-5.4 5.62l-5.4 -5.62zM515 528.38l5.4 5.62l-5.4 5.62l-5.4 -5.62zM513 533.38l5.4 5.62l-5.4 5.62l-5.4 -5.62zM518 537.38l5.4 5.62l-5.4 5.62l-5.4 -5.62zM524 533.38l5.4 5.62l-5.4 5.62l-5.4 -5.62zM523 540.38l5.4 5.62l-5.4 5.62l-5.4 -5.62zM528 543.38l5.4 5.62l-5.4 5.62l-5.4 -5.62zM533 538.38l5.4 5.62l-5.4 5.62l-5.4 -5.62zM535 545.38l5.4 5.62l-5.4 5.62l-5.4 -5.62zM540 549.38l5.4 5.62l-5.4 5.62l-5.4 -5.62zM544 544.38l5.4 5.62l-5.4 5.62l-5.4 -5.62zM548 547.38l5.4 5.62l-5.4 5.62l-5.4 -5.62zM551 537.38l5.4 5.62l-5.4 5.62l-5.4 -5.62zM554 543.38l5.4 5.62l-5.4 5.62l-5.4 -5.62zM557 547.38l5.4 5.62l-5.4 5.62l-5.4 -5.62zM476 525.38l5.4 5.62l-5.4 5.62l-5.4 -5.62zM472 531.38l5.4 5.62l-5.4 5.62l-5.4 -5.62zM469 537.38l5.4 5.62l-5.4 5.62l-5.4 -5.62zM480 539.38l5.4 5.62l-5.4 5.62l-5.4 -5.62zM466 546.38l5.4 5.62l-5.4 5.62l-5.4 -5.62zM438.47 554.3l5.4 5.62l-5.4 5.62l-5.4 -5.62zM440.38 559.06l5.4 5.62l-5.4 5.62l-5.4 -5.62zM446.11 554.08l5.4 5.62l-5.4 5.62l-5.4 -5.62zM448.72 554.01l5.4 5.62l-5.4 5.62l-5.4 -5.62zM454.25 551.25l5.4 5.62l-5.4 5.62l-5.4 -5.62zM456.27 548.81l5.4 5.62l-5.4 5.62l-5.4 -5.62zM460.88 549.19l5.4 5.62l-5.4 5.62l-5.4 -5.62zM461.79 543.82l5.4 5.62l-5.4 5.62l-5.4 -5.62zM467.59 542.45l5.4 5.62l-5.4 5.62l-5.4 -5.62zM470.32 538.93l5.4 5.62l-5.4 5.62l-5.4 -5.62zM471.82 532.15l5.4 5.62l-5.4 5.62l-5.4 -5.62zM474.29 532.53l5.4 5.62l-5.4 5.62l-5.4 -5.62zM493.28 505.14l5.4 5.62l-5.4 5.62l-5.4 -5.62zM494.39 506.08l5.4 5.62l-5.4 5.62l-5.4 -5.62zM495.37 517.84l5.4 5.62l-5.4 5.62l-5.4 -5.62zM497.55 514.82l5.4 5.62l-5.4 5.62l-5.4 -5.62zM505.37 513.28l5.4 5.62l-5.4 5.62l-5.4 -5.62zM504.47 526.18l5.4 5.62l-5.4 5.62l-5.4 -5.62zM509.41 525.52l5.4 5.62l-5.4 5.62l-5.4 -5.62zM509.3 526.68l5.4 5.62l-5.4 5.62l-5.4 -5.62zM511.31 533.08l5.4 5.62l-5.4 5.62l-5.4 -5.62zM510.81 532.44l5.4 5.62l-5.4 5.62l-5.4 -5.62zM521.3 538.69l5.4 5.62l-5.4 5.62l-5.4 -5.62zM520.18 537.86l5.4 5.62l-5.4 5.62l-5.4 -5.62zM520.52 538.62l5.4 5.62l-5.4 5.62l-5.4 -5.62zM524.51 540.86l5.4 5.62l-5.4 5.62l-5.4 -5.62zM534.49 543.64l5.4 5.62l-5.4 5.62l-5.4 -5.62zM539.8 543.57l5.4 5.62l-5.4 5.62l-5.4 -5.62zM540.41 543.38l5.4 5.62l-5.4 5.62l-5.4 -5.62zM542.85 542.31l5.4 5.62l-5.4 5.62l-5.4 -5.62zM547.18 543.73l5.4 5.62l-5.4 5.62l-5.4 -5.62zM553.38 540.52l5.4 5.62l-5.4 5.62l-5.4 -5.62z" stroke="#000" stroke-width="1.15"/>
</g>
</svg>
</body></html>
